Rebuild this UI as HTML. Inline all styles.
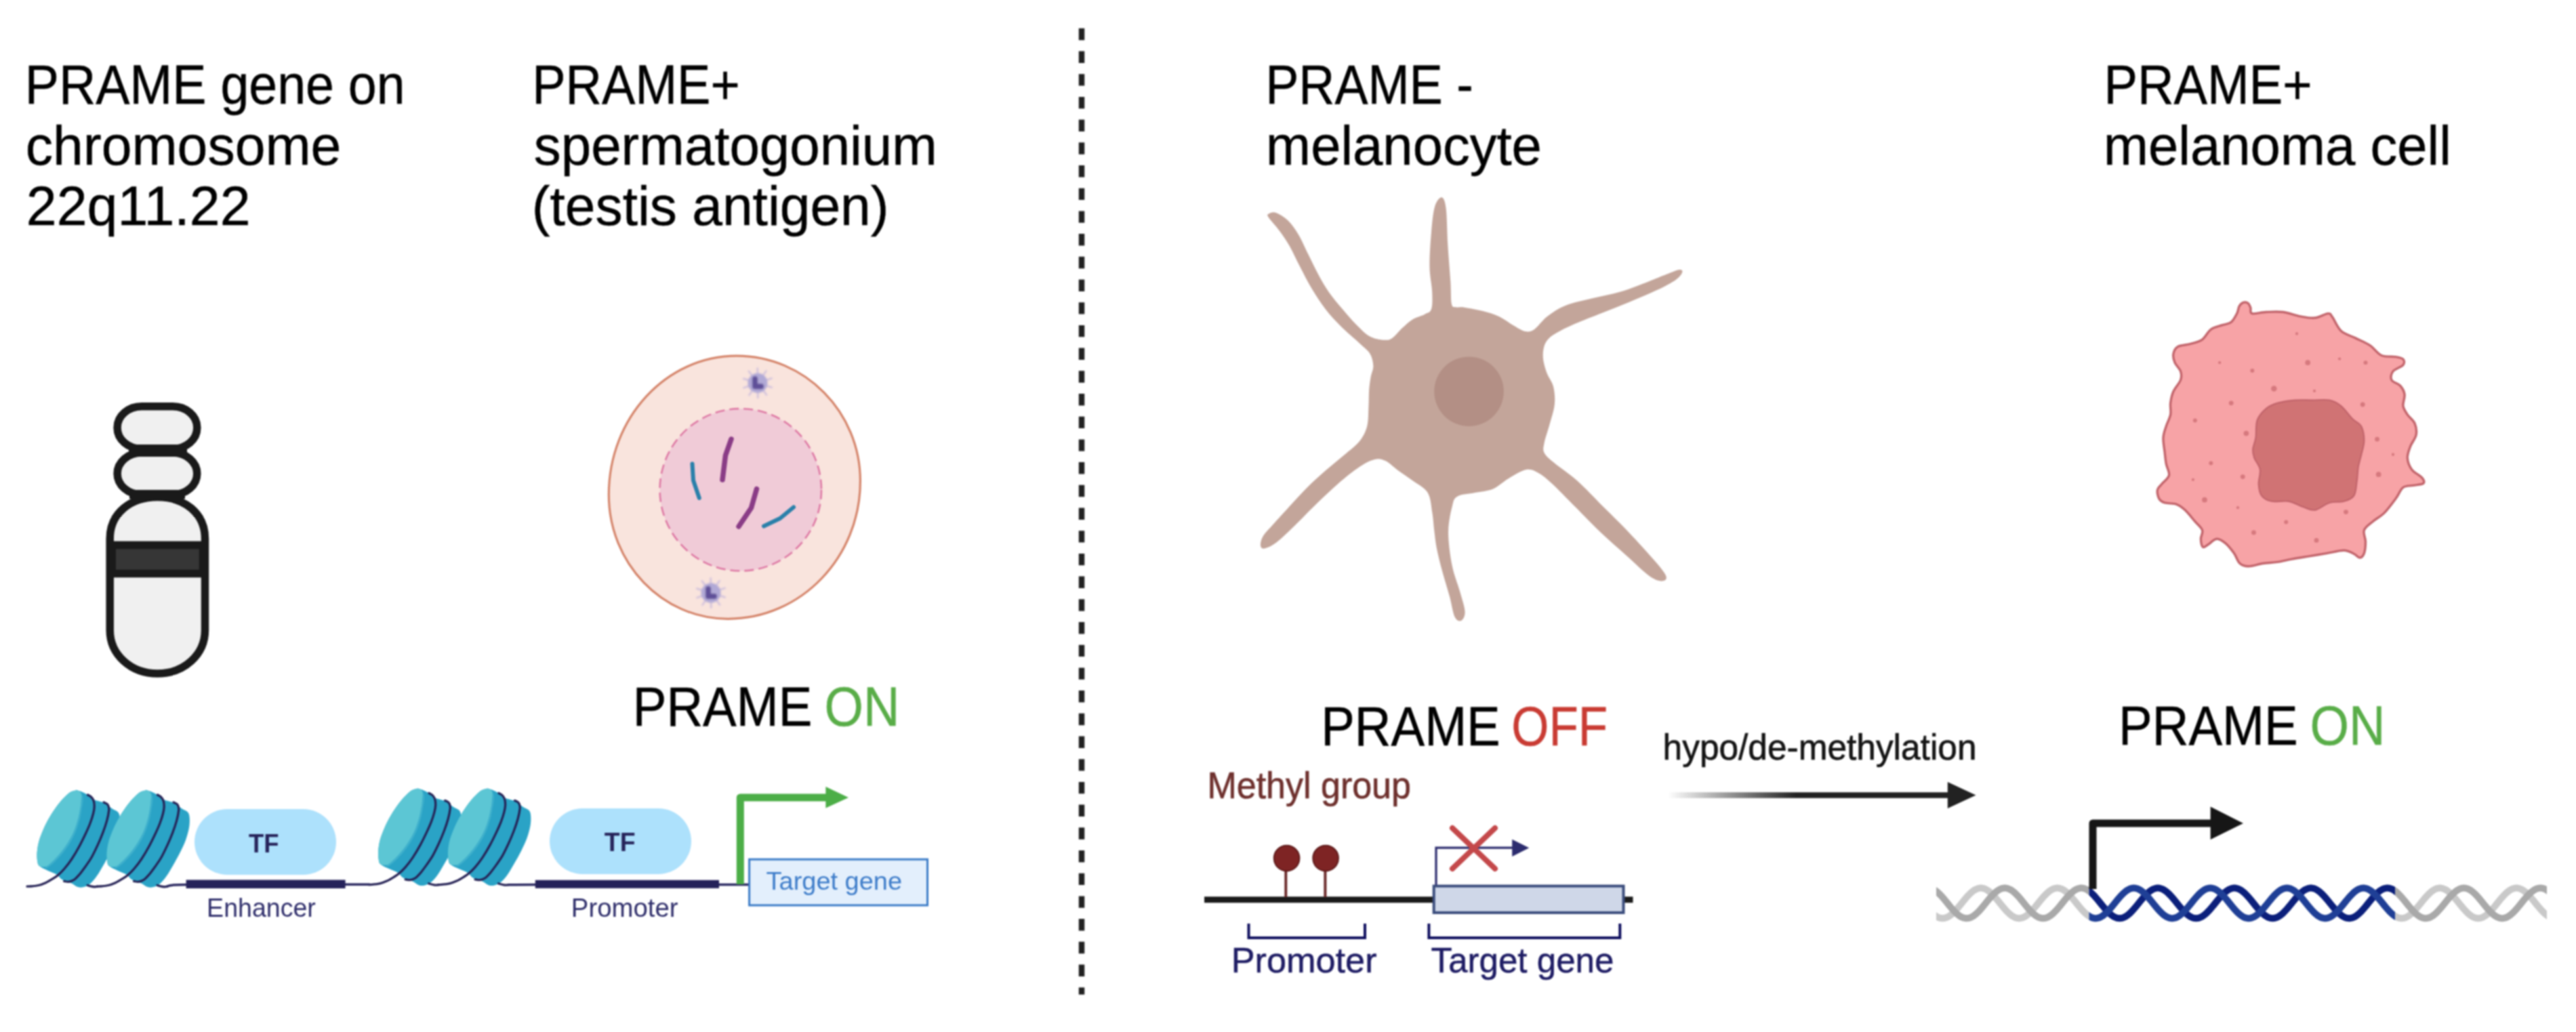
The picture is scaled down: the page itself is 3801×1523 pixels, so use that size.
<!DOCTYPE html>
<html><head><meta charset="utf-8">
<style>
html,body{margin:0;padding:0;background:#fff;}
body{width:3801px;height:1523px;overflow:hidden;}
svg{display:block;filter:blur(0.8px);}
text{font-family:"Liberation Sans",sans-serif;}
</style></head>
<body>
<svg width="3801" height="1523" viewBox="0 0 3801 1523">
<defs>
<filter id="blur1" x="-50%" y="-50%" width="200%" height="200%"><feGaussianBlur stdDeviation="1.3"/></filter>
<linearGradient id="arrg" x1="2461" y1="0" x2="2650" y2="0" gradientUnits="userSpaceOnUse">
<stop offset="0" stop-color="#222" stop-opacity="0"/>
<stop offset="1" stop-color="#222" stop-opacity="1"/>
</linearGradient>
</defs>
<rect width="3801" height="1523" fill="#fff"/>
<line x1="1596" y1="41.8" x2="1596" y2="1467.7" stroke="#222" stroke-width="8.5" stroke-dasharray="17.4 16.3"/>
<g stroke="#1a1a1a" stroke-width="11.5">
<path d="M162.2,795 C162.2,757 193,733.5 232.35,733.5 C271.7,733.5 302.5,757 302.5,795 L302.5,930 C302.5,966 271.7,994 232.35,994 C193,994 162.2,966 162.2,930 Z" fill="#f0f0f0"/>
<rect x="165.2" y="804.4" width="134.3" height="42.1" fill="#363636"/>
<rect x="173.1" y="668" width="117.7" height="62" rx="36" ry="31" fill="#f0f0f0"/>
<rect x="173.1" y="599.8" width="117.7" height="62.6" rx="36" ry="31" fill="#f0f0f0"/>
</g>
<rect x="190" y="656" width="86" height="18" fill="#1a1a1a"/>
<rect x="191" y="723" width="82" height="13" fill="#1a1a1a"/>
<path d="M1086.9,525.1 C1187.7,525.1 1269.4,607.9 1269.4,710.0 C1269.4,822.3 1182.0,913.3 1074.2,913.3 C977.1,913.3 898.3,831.2 898.3,730.0 C898.3,616.8 982.7,525.1 1086.9,525.1Z" fill="#f9e4dd" stroke="#d5856b" stroke-width="3.2"/>
<ellipse cx="1092.8" cy="722.8" rx="119.2" ry="119.7" fill="#f0cbd7" stroke="#de7aa5" stroke-width="2.6" stroke-dasharray="14 7"/>
<g filter="url(#blur1)"><g stroke="#c4b6dc" stroke-width="2" stroke-linecap="round"><line x1="1130.4" y1="569.1" x2="1139.0" y2="571.8"/><line x1="1125.8" y1="575.7" x2="1131.2" y2="582.9"/><line x1="1118.2" y1="578.3" x2="1118.3" y2="587.3"/><line x1="1110.5" y1="575.9" x2="1105.3" y2="583.3"/><line x1="1105.7" y1="569.5" x2="1097.2" y2="572.4"/><line x1="1105.6" y1="561.5" x2="1097.0" y2="558.8"/><line x1="1110.2" y1="554.9" x2="1104.8" y2="547.7"/><line x1="1117.8" y1="552.3" x2="1117.7" y2="543.3"/><line x1="1125.5" y1="554.7" x2="1130.7" y2="547.3"/><line x1="1130.3" y1="561.1" x2="1138.8" y2="558.2"/></g><circle cx="1118.0" cy="565.3" r="14.5" fill="#b1a9d6"/><path d="M1114.0,559.3 l0,11 l9,0" stroke="#5f4f98" stroke-width="8" fill="none" stroke-linejoin="round" stroke-linecap="round"/></g>
<g filter="url(#blur1)"><g stroke="#c4b6dc" stroke-width="2" stroke-linecap="round"><line x1="1061.4" y1="878.8" x2="1070.0" y2="881.5"/><line x1="1056.8" y1="885.4" x2="1062.2" y2="892.6"/><line x1="1049.2" y1="888.0" x2="1049.3" y2="897.0"/><line x1="1041.5" y1="885.6" x2="1036.3" y2="893.0"/><line x1="1036.7" y1="879.2" x2="1028.2" y2="882.1"/><line x1="1036.6" y1="871.2" x2="1028.0" y2="868.5"/><line x1="1041.2" y1="864.6" x2="1035.8" y2="857.4"/><line x1="1048.8" y1="862.0" x2="1048.7" y2="853.0"/><line x1="1056.5" y1="864.4" x2="1061.7" y2="857.0"/><line x1="1061.3" y1="870.8" x2="1069.8" y2="867.9"/></g><circle cx="1049.0" cy="875.0" r="14.5" fill="#b1a9d6"/><path d="M1045.0,869.0 l0,11 l9,0" stroke="#5f4f98" stroke-width="8" fill="none" stroke-linejoin="round" stroke-linecap="round"/></g>
<g fill="none" stroke-linecap="round" stroke-linejoin="round">
<path d="M1079,648 L1070.5,672 L1066,708" stroke="#8a3c86" stroke-width="7.5"/>
<path d="M1116.5,721.5 L1108.5,749.5 L1090,777" stroke="#8a3c86" stroke-width="7.5"/>
<path d="M1021.5,684.5 L1023,709 L1031.8,735" stroke="#2a80aa" stroke-width="6"/>
<path d="M1171,748.5 L1151,765 L1127,776.5" stroke="#2a80aa" stroke-width="6"/>
</g>
<g transform="translate(40.00,1150.00)"><g><path d="M72.0,16.5 C74.0,16.4 75.8,16.8 78.0,17.5 C80.2,18.2 83.1,19.5 85.0,20.5 C86.9,21.5 87.5,22.0 89.5,23.5 C91.5,25.0 94.4,28.1 97.0,29.5 C99.6,30.9 102.2,31.1 105.0,32.0 C107.8,32.9 111.3,33.8 113.5,34.8 C115.7,35.8 115.9,36.5 118.0,38.0 C120.1,39.5 123.4,42.0 126.1,43.8 C128.8,45.6 132.5,46.5 134.3,48.7 C136.1,50.9 136.5,53.1 136.8,57.0 C137.1,60.9 137.0,66.3 136.0,71.8 C135.0,77.3 133.2,83.9 131.0,89.9 C128.8,95.9 125.8,102.0 122.8,108.0 C119.8,114.0 116.2,120.4 112.9,126.2 C109.6,132.0 106.3,137.9 103.0,142.6 C99.7,147.3 96.4,151.4 93.1,154.2 C89.8,156.9 86.3,158.3 83.3,159.1 C80.3,159.9 77.8,159.9 75.0,159.1 C72.2,158.3 69.5,155.6 66.8,154.2 C64.0,152.8 61.3,152.1 58.5,150.9 C55.7,149.7 52.4,148.7 50.0,147.0 C47.6,145.3 47.2,142.9 43.9,140.8 C40.6,138.8 34.6,136.8 30.3,134.7 C26.0,132.6 20.6,130.3 18.1,128.0 C15.6,125.7 15.8,124.4 15.2,121.0 C14.6,117.6 14.3,112.5 14.7,107.6 C15.1,102.7 15.9,97.0 17.5,91.4 C19.1,85.8 21.6,79.6 24.0,74.0 C26.4,68.4 29.2,62.9 32.0,58.0 C34.8,53.1 37.5,48.8 40.5,44.5 C43.5,40.2 46.7,35.8 50.0,32.0 C53.3,28.2 57.8,23.8 60.5,21.5 C63.2,19.2 64.1,18.8 66.0,18.0 C67.9,17.2 70.0,16.6 72.0,16.5Z" fill="#2aa3c6"/><path d="M72.0,16.5 C71.3,14.7 74.8,16.6 76.0,17.2 C77.2,17.8 78.5,18.7 79.5,20.0 C80.5,21.3 81.5,23.0 82.0,25.0 C82.5,27.0 82.7,29.2 82.5,32.0 C82.3,34.8 81.8,37.7 81.0,42.0 C80.2,46.3 79.3,52.7 78.0,58.0 C76.7,63.3 74.9,68.9 73.0,74.0 C71.1,79.1 69.0,83.8 66.5,88.5 C64.0,93.2 61.1,97.7 58.0,102.0 C54.9,106.3 51.4,110.7 48.0,114.5 C44.6,118.3 40.7,122.2 37.5,125.0 C34.3,127.8 30.8,130.3 29.0,131.0 C27.2,131.7 26.0,130.2 27.0,129.0 C28.0,127.8 31.9,126.2 35.0,123.5 C38.1,120.8 42.1,116.8 45.5,113.0 C48.9,109.2 52.4,104.8 55.5,100.5 C58.6,96.2 61.5,91.6 64.0,87.0 C66.5,82.4 68.6,78.0 70.5,73.0 C72.4,68.0 74.1,62.5 75.5,57.0 C76.9,51.5 78.0,44.8 78.8,40.0 C79.5,35.2 81.1,31.9 80.0,28.0 C78.9,24.1 72.7,18.3 72.0,16.5Z" fill="#3fb0cc"/><path d="M72.0,16.5 C73.7,16.4 74.8,16.6 76.0,17.2 C77.2,17.8 78.8,18.2 79.5,20.0 C80.2,21.8 80.1,24.7 80.0,28.0 C79.9,31.3 79.5,35.2 78.8,40.0 C78.0,44.8 76.9,51.5 75.5,57.0 C74.1,62.5 72.4,68.0 70.5,73.0 C68.6,78.0 66.5,82.4 64.0,87.0 C61.5,91.6 58.6,96.2 55.5,100.5 C52.4,104.8 48.9,109.2 45.5,113.0 C42.1,116.8 38.1,120.8 35.0,123.5 C31.9,126.2 29.8,128.2 27.0,129.0 C24.2,129.8 20.1,129.3 18.1,128.0 C16.1,126.7 15.8,124.4 15.2,121.0 C14.6,117.6 14.3,112.5 14.7,107.6 C15.1,102.7 15.9,97.0 17.5,91.4 C19.1,85.8 21.6,79.6 24.0,74.0 C26.4,68.4 29.2,62.9 32.0,58.0 C34.8,53.1 37.5,48.8 40.5,44.5 C43.5,40.2 46.7,35.8 50.0,32.0 C53.3,28.2 57.8,23.8 60.5,21.5 C63.2,19.2 64.1,18.8 66.0,18.0 C67.9,17.2 70.3,16.6 72.0,16.5Z" fill="#5cc6d4"/><g fill="none" stroke="#262356" stroke-width="3.3" stroke-linecap="round"><path d="M0.0,158.2 C0.8,158.2 2.2,158.3 5.0,158.0 C7.8,157.7 13.2,157.4 17.0,156.5 C20.8,155.6 24.0,154.3 27.5,152.7 C31.0,151.1 35.0,148.6 38.0,146.7 C41.0,144.8 42.8,143.8 45.6,141.4 C48.4,139.0 51.2,136.5 54.6,132.5 C58.0,128.5 62.3,123.1 66.0,117.5 C69.7,111.9 73.7,105.1 77.0,99.0 C80.3,92.9 83.3,86.7 86.0,81.0 C88.7,75.3 91.1,70.0 93.0,65.0 C94.9,60.0 96.5,55.0 97.5,51.0 C98.5,47.0 99.1,44.2 99.2,41.0 C99.3,37.8 98.9,34.0 98.1,31.5 C97.3,29.0 95.8,27.4 94.4,26.0 C93.0,24.6 90.3,23.5 89.5,23.0"/><path d="M54.6,150.5 C55.9,150.6 59.6,151.6 62.1,151.2 C64.6,150.8 67.1,149.9 69.6,148.2 C72.1,146.4 74.3,143.9 77.1,140.7 C79.8,137.4 83.1,132.9 86.1,128.7 C89.1,124.4 92.1,120.5 95.1,115.2 C98.1,109.9 101.3,103.1 104.1,97.1 C106.9,91.1 109.4,85.1 111.7,79.1 C114.0,73.1 116.2,66.6 117.7,61.1 C119.2,55.6 120.3,49.6 120.7,46.0 C121.1,42.4 120.4,40.9 119.9,39.3 C119.4,37.7 118.8,37.2 117.7,36.3 C116.6,35.4 114.0,34.4 113.2,34.0"/><path d="M89.1,156.5 C90.6,156.9 95.6,158.4 98.1,158.7 C100.6,159.0 103.0,158.4 104.0,158.3"/></g></g></g>
<g transform="translate(142.93,1150.00)"><g><path d="M72.0,16.5 C74.0,16.4 75.8,16.8 78.0,17.5 C80.2,18.2 83.1,19.5 85.0,20.5 C86.9,21.5 87.5,22.0 89.5,23.5 C91.5,25.0 94.4,28.1 97.0,29.5 C99.6,30.9 102.2,31.1 105.0,32.0 C107.8,32.9 111.3,33.8 113.5,34.8 C115.7,35.8 115.9,36.5 118.0,38.0 C120.1,39.5 123.4,42.0 126.1,43.8 C128.8,45.6 132.5,46.5 134.3,48.7 C136.1,50.9 136.5,53.1 136.8,57.0 C137.1,60.9 137.0,66.3 136.0,71.8 C135.0,77.3 133.2,83.9 131.0,89.9 C128.8,95.9 125.8,102.0 122.8,108.0 C119.8,114.0 116.2,120.4 112.9,126.2 C109.6,132.0 106.3,137.9 103.0,142.6 C99.7,147.3 96.4,151.4 93.1,154.2 C89.8,156.9 86.3,158.3 83.3,159.1 C80.3,159.9 77.8,159.9 75.0,159.1 C72.2,158.3 69.5,155.6 66.8,154.2 C64.0,152.8 61.3,152.1 58.5,150.9 C55.7,149.7 52.4,148.7 50.0,147.0 C47.6,145.3 47.2,142.9 43.9,140.8 C40.6,138.8 34.6,136.8 30.3,134.7 C26.0,132.6 20.6,130.3 18.1,128.0 C15.6,125.7 15.8,124.4 15.2,121.0 C14.6,117.6 14.3,112.5 14.7,107.6 C15.1,102.7 15.9,97.0 17.5,91.4 C19.1,85.8 21.6,79.6 24.0,74.0 C26.4,68.4 29.2,62.9 32.0,58.0 C34.8,53.1 37.5,48.8 40.5,44.5 C43.5,40.2 46.7,35.8 50.0,32.0 C53.3,28.2 57.8,23.8 60.5,21.5 C63.2,19.2 64.1,18.8 66.0,18.0 C67.9,17.2 70.0,16.6 72.0,16.5Z" fill="#2aa3c6"/><path d="M72.0,16.5 C71.3,14.7 74.8,16.6 76.0,17.2 C77.2,17.8 78.5,18.7 79.5,20.0 C80.5,21.3 81.5,23.0 82.0,25.0 C82.5,27.0 82.7,29.2 82.5,32.0 C82.3,34.8 81.8,37.7 81.0,42.0 C80.2,46.3 79.3,52.7 78.0,58.0 C76.7,63.3 74.9,68.9 73.0,74.0 C71.1,79.1 69.0,83.8 66.5,88.5 C64.0,93.2 61.1,97.7 58.0,102.0 C54.9,106.3 51.4,110.7 48.0,114.5 C44.6,118.3 40.7,122.2 37.5,125.0 C34.3,127.8 30.8,130.3 29.0,131.0 C27.2,131.7 26.0,130.2 27.0,129.0 C28.0,127.8 31.9,126.2 35.0,123.5 C38.1,120.8 42.1,116.8 45.5,113.0 C48.9,109.2 52.4,104.8 55.5,100.5 C58.6,96.2 61.5,91.6 64.0,87.0 C66.5,82.4 68.6,78.0 70.5,73.0 C72.4,68.0 74.1,62.5 75.5,57.0 C76.9,51.5 78.0,44.8 78.8,40.0 C79.5,35.2 81.1,31.9 80.0,28.0 C78.9,24.1 72.7,18.3 72.0,16.5Z" fill="#3fb0cc"/><path d="M72.0,16.5 C73.7,16.4 74.8,16.6 76.0,17.2 C77.2,17.8 78.8,18.2 79.5,20.0 C80.2,21.8 80.1,24.7 80.0,28.0 C79.9,31.3 79.5,35.2 78.8,40.0 C78.0,44.8 76.9,51.5 75.5,57.0 C74.1,62.5 72.4,68.0 70.5,73.0 C68.6,78.0 66.5,82.4 64.0,87.0 C61.5,91.6 58.6,96.2 55.5,100.5 C52.4,104.8 48.9,109.2 45.5,113.0 C42.1,116.8 38.1,120.8 35.0,123.5 C31.9,126.2 29.8,128.2 27.0,129.0 C24.2,129.8 20.1,129.3 18.1,128.0 C16.1,126.7 15.8,124.4 15.2,121.0 C14.6,117.6 14.3,112.5 14.7,107.6 C15.1,102.7 15.9,97.0 17.5,91.4 C19.1,85.8 21.6,79.6 24.0,74.0 C26.4,68.4 29.2,62.9 32.0,58.0 C34.8,53.1 37.5,48.8 40.5,44.5 C43.5,40.2 46.7,35.8 50.0,32.0 C53.3,28.2 57.8,23.8 60.5,21.5 C63.2,19.2 64.1,18.8 66.0,18.0 C67.9,17.2 70.3,16.6 72.0,16.5Z" fill="#5cc6d4"/><g fill="none" stroke="#262356" stroke-width="3.3" stroke-linecap="round"><path d="M0.0,158.2 C0.8,158.2 2.2,158.3 5.0,158.0 C7.8,157.7 13.2,157.4 17.0,156.5 C20.8,155.6 24.0,154.3 27.5,152.7 C31.0,151.1 35.0,148.6 38.0,146.7 C41.0,144.8 42.8,143.8 45.6,141.4 C48.4,139.0 51.2,136.5 54.6,132.5 C58.0,128.5 62.3,123.1 66.0,117.5 C69.7,111.9 73.7,105.1 77.0,99.0 C80.3,92.9 83.3,86.7 86.0,81.0 C88.7,75.3 91.1,70.0 93.0,65.0 C94.9,60.0 96.5,55.0 97.5,51.0 C98.5,47.0 99.1,44.2 99.2,41.0 C99.3,37.8 98.9,34.0 98.1,31.5 C97.3,29.0 95.8,27.4 94.4,26.0 C93.0,24.6 90.3,23.5 89.5,23.0"/><path d="M54.6,150.5 C55.9,150.6 59.6,151.6 62.1,151.2 C64.6,150.8 67.1,149.9 69.6,148.2 C72.1,146.4 74.3,143.9 77.1,140.7 C79.8,137.4 83.1,132.9 86.1,128.7 C89.1,124.4 92.1,120.5 95.1,115.2 C98.1,109.9 101.3,103.1 104.1,97.1 C106.9,91.1 109.4,85.1 111.7,79.1 C114.0,73.1 116.2,66.6 117.7,61.1 C119.2,55.6 120.3,49.6 120.7,46.0 C121.1,42.4 120.4,40.9 119.9,39.3 C119.4,37.7 118.8,37.2 117.7,36.3 C116.6,35.4 114.0,34.4 113.2,34.0"/><path d="M89.1,156.5 C90.6,156.9 95.6,158.4 98.1,158.7 C100.6,159.0 103.0,158.4 104.0,158.3"/></g></g></g>
<g transform="translate(543.50,1147.40)"><g><path d="M72.0,16.5 C74.0,16.4 75.8,16.8 78.0,17.5 C80.2,18.2 83.1,19.5 85.0,20.5 C86.9,21.5 87.5,22.0 89.5,23.5 C91.5,25.0 94.4,28.1 97.0,29.5 C99.6,30.9 102.2,31.1 105.0,32.0 C107.8,32.9 111.3,33.8 113.5,34.8 C115.7,35.8 115.9,36.5 118.0,38.0 C120.1,39.5 123.4,42.0 126.1,43.8 C128.8,45.6 132.5,46.5 134.3,48.7 C136.1,50.9 136.5,53.1 136.8,57.0 C137.1,60.9 137.0,66.3 136.0,71.8 C135.0,77.3 133.2,83.9 131.0,89.9 C128.8,95.9 125.8,102.0 122.8,108.0 C119.8,114.0 116.2,120.4 112.9,126.2 C109.6,132.0 106.3,137.9 103.0,142.6 C99.7,147.3 96.4,151.4 93.1,154.2 C89.8,156.9 86.3,158.3 83.3,159.1 C80.3,159.9 77.8,159.9 75.0,159.1 C72.2,158.3 69.5,155.6 66.8,154.2 C64.0,152.8 61.3,152.1 58.5,150.9 C55.7,149.7 52.4,148.7 50.0,147.0 C47.6,145.3 47.2,142.9 43.9,140.8 C40.6,138.8 34.6,136.8 30.3,134.7 C26.0,132.6 20.6,130.3 18.1,128.0 C15.6,125.7 15.8,124.4 15.2,121.0 C14.6,117.6 14.3,112.5 14.7,107.6 C15.1,102.7 15.9,97.0 17.5,91.4 C19.1,85.8 21.6,79.6 24.0,74.0 C26.4,68.4 29.2,62.9 32.0,58.0 C34.8,53.1 37.5,48.8 40.5,44.5 C43.5,40.2 46.7,35.8 50.0,32.0 C53.3,28.2 57.8,23.8 60.5,21.5 C63.2,19.2 64.1,18.8 66.0,18.0 C67.9,17.2 70.0,16.6 72.0,16.5Z" fill="#2aa3c6"/><path d="M72.0,16.5 C71.3,14.7 74.8,16.6 76.0,17.2 C77.2,17.8 78.5,18.7 79.5,20.0 C80.5,21.3 81.5,23.0 82.0,25.0 C82.5,27.0 82.7,29.2 82.5,32.0 C82.3,34.8 81.8,37.7 81.0,42.0 C80.2,46.3 79.3,52.7 78.0,58.0 C76.7,63.3 74.9,68.9 73.0,74.0 C71.1,79.1 69.0,83.8 66.5,88.5 C64.0,93.2 61.1,97.7 58.0,102.0 C54.9,106.3 51.4,110.7 48.0,114.5 C44.6,118.3 40.7,122.2 37.5,125.0 C34.3,127.8 30.8,130.3 29.0,131.0 C27.2,131.7 26.0,130.2 27.0,129.0 C28.0,127.8 31.9,126.2 35.0,123.5 C38.1,120.8 42.1,116.8 45.5,113.0 C48.9,109.2 52.4,104.8 55.5,100.5 C58.6,96.2 61.5,91.6 64.0,87.0 C66.5,82.4 68.6,78.0 70.5,73.0 C72.4,68.0 74.1,62.5 75.5,57.0 C76.9,51.5 78.0,44.8 78.8,40.0 C79.5,35.2 81.1,31.9 80.0,28.0 C78.9,24.1 72.7,18.3 72.0,16.5Z" fill="#3fb0cc"/><path d="M72.0,16.5 C73.7,16.4 74.8,16.6 76.0,17.2 C77.2,17.8 78.8,18.2 79.5,20.0 C80.2,21.8 80.1,24.7 80.0,28.0 C79.9,31.3 79.5,35.2 78.8,40.0 C78.0,44.8 76.9,51.5 75.5,57.0 C74.1,62.5 72.4,68.0 70.5,73.0 C68.6,78.0 66.5,82.4 64.0,87.0 C61.5,91.6 58.6,96.2 55.5,100.5 C52.4,104.8 48.9,109.2 45.5,113.0 C42.1,116.8 38.1,120.8 35.0,123.5 C31.9,126.2 29.8,128.2 27.0,129.0 C24.2,129.8 20.1,129.3 18.1,128.0 C16.1,126.7 15.8,124.4 15.2,121.0 C14.6,117.6 14.3,112.5 14.7,107.6 C15.1,102.7 15.9,97.0 17.5,91.4 C19.1,85.8 21.6,79.6 24.0,74.0 C26.4,68.4 29.2,62.9 32.0,58.0 C34.8,53.1 37.5,48.8 40.5,44.5 C43.5,40.2 46.7,35.8 50.0,32.0 C53.3,28.2 57.8,23.8 60.5,21.5 C63.2,19.2 64.1,18.8 66.0,18.0 C67.9,17.2 70.3,16.6 72.0,16.5Z" fill="#5cc6d4"/><g fill="none" stroke="#262356" stroke-width="3.3" stroke-linecap="round"><path d="M0.0,158.2 C0.8,158.2 2.2,158.3 5.0,158.0 C7.8,157.7 13.2,157.4 17.0,156.5 C20.8,155.6 24.0,154.3 27.5,152.7 C31.0,151.1 35.0,148.6 38.0,146.7 C41.0,144.8 42.8,143.8 45.6,141.4 C48.4,139.0 51.2,136.5 54.6,132.5 C58.0,128.5 62.3,123.1 66.0,117.5 C69.7,111.9 73.7,105.1 77.0,99.0 C80.3,92.9 83.3,86.7 86.0,81.0 C88.7,75.3 91.1,70.0 93.0,65.0 C94.9,60.0 96.5,55.0 97.5,51.0 C98.5,47.0 99.1,44.2 99.2,41.0 C99.3,37.8 98.9,34.0 98.1,31.5 C97.3,29.0 95.8,27.4 94.4,26.0 C93.0,24.6 90.3,23.5 89.5,23.0"/><path d="M54.6,150.5 C55.9,150.6 59.6,151.6 62.1,151.2 C64.6,150.8 67.1,149.9 69.6,148.2 C72.1,146.4 74.3,143.9 77.1,140.7 C79.8,137.4 83.1,132.9 86.1,128.7 C89.1,124.4 92.1,120.5 95.1,115.2 C98.1,109.9 101.3,103.1 104.1,97.1 C106.9,91.1 109.4,85.1 111.7,79.1 C114.0,73.1 116.2,66.6 117.7,61.1 C119.2,55.6 120.3,49.6 120.7,46.0 C121.1,42.4 120.4,40.9 119.9,39.3 C119.4,37.7 118.8,37.2 117.7,36.3 C116.6,35.4 114.0,34.4 113.2,34.0"/><path d="M89.1,156.5 C90.6,156.9 95.6,158.4 98.1,158.7 C100.6,159.0 103.0,158.4 104.0,158.3"/></g></g></g>
<g transform="translate(646.40,1147.40)"><g><path d="M72.0,16.5 C74.0,16.4 75.8,16.8 78.0,17.5 C80.2,18.2 83.1,19.5 85.0,20.5 C86.9,21.5 87.5,22.0 89.5,23.5 C91.5,25.0 94.4,28.1 97.0,29.5 C99.6,30.9 102.2,31.1 105.0,32.0 C107.8,32.9 111.3,33.8 113.5,34.8 C115.7,35.8 115.9,36.5 118.0,38.0 C120.1,39.5 123.4,42.0 126.1,43.8 C128.8,45.6 132.5,46.5 134.3,48.7 C136.1,50.9 136.5,53.1 136.8,57.0 C137.1,60.9 137.0,66.3 136.0,71.8 C135.0,77.3 133.2,83.9 131.0,89.9 C128.8,95.9 125.8,102.0 122.8,108.0 C119.8,114.0 116.2,120.4 112.9,126.2 C109.6,132.0 106.3,137.9 103.0,142.6 C99.7,147.3 96.4,151.4 93.1,154.2 C89.8,156.9 86.3,158.3 83.3,159.1 C80.3,159.9 77.8,159.9 75.0,159.1 C72.2,158.3 69.5,155.6 66.8,154.2 C64.0,152.8 61.3,152.1 58.5,150.9 C55.7,149.7 52.4,148.7 50.0,147.0 C47.6,145.3 47.2,142.9 43.9,140.8 C40.6,138.8 34.6,136.8 30.3,134.7 C26.0,132.6 20.6,130.3 18.1,128.0 C15.6,125.7 15.8,124.4 15.2,121.0 C14.6,117.6 14.3,112.5 14.7,107.6 C15.1,102.7 15.9,97.0 17.5,91.4 C19.1,85.8 21.6,79.6 24.0,74.0 C26.4,68.4 29.2,62.9 32.0,58.0 C34.8,53.1 37.5,48.8 40.5,44.5 C43.5,40.2 46.7,35.8 50.0,32.0 C53.3,28.2 57.8,23.8 60.5,21.5 C63.2,19.2 64.1,18.8 66.0,18.0 C67.9,17.2 70.0,16.6 72.0,16.5Z" fill="#2aa3c6"/><path d="M72.0,16.5 C71.3,14.7 74.8,16.6 76.0,17.2 C77.2,17.8 78.5,18.7 79.5,20.0 C80.5,21.3 81.5,23.0 82.0,25.0 C82.5,27.0 82.7,29.2 82.5,32.0 C82.3,34.8 81.8,37.7 81.0,42.0 C80.2,46.3 79.3,52.7 78.0,58.0 C76.7,63.3 74.9,68.9 73.0,74.0 C71.1,79.1 69.0,83.8 66.5,88.5 C64.0,93.2 61.1,97.7 58.0,102.0 C54.9,106.3 51.4,110.7 48.0,114.5 C44.6,118.3 40.7,122.2 37.5,125.0 C34.3,127.8 30.8,130.3 29.0,131.0 C27.2,131.7 26.0,130.2 27.0,129.0 C28.0,127.8 31.9,126.2 35.0,123.5 C38.1,120.8 42.1,116.8 45.5,113.0 C48.9,109.2 52.4,104.8 55.5,100.5 C58.6,96.2 61.5,91.6 64.0,87.0 C66.5,82.4 68.6,78.0 70.5,73.0 C72.4,68.0 74.1,62.5 75.5,57.0 C76.9,51.5 78.0,44.8 78.8,40.0 C79.5,35.2 81.1,31.9 80.0,28.0 C78.9,24.1 72.7,18.3 72.0,16.5Z" fill="#3fb0cc"/><path d="M72.0,16.5 C73.7,16.4 74.8,16.6 76.0,17.2 C77.2,17.8 78.8,18.2 79.5,20.0 C80.2,21.8 80.1,24.7 80.0,28.0 C79.9,31.3 79.5,35.2 78.8,40.0 C78.0,44.8 76.9,51.5 75.5,57.0 C74.1,62.5 72.4,68.0 70.5,73.0 C68.6,78.0 66.5,82.4 64.0,87.0 C61.5,91.6 58.6,96.2 55.5,100.5 C52.4,104.8 48.9,109.2 45.5,113.0 C42.1,116.8 38.1,120.8 35.0,123.5 C31.9,126.2 29.8,128.2 27.0,129.0 C24.2,129.8 20.1,129.3 18.1,128.0 C16.1,126.7 15.8,124.4 15.2,121.0 C14.6,117.6 14.3,112.5 14.7,107.6 C15.1,102.7 15.9,97.0 17.5,91.4 C19.1,85.8 21.6,79.6 24.0,74.0 C26.4,68.4 29.2,62.9 32.0,58.0 C34.8,53.1 37.5,48.8 40.5,44.5 C43.5,40.2 46.7,35.8 50.0,32.0 C53.3,28.2 57.8,23.8 60.5,21.5 C63.2,19.2 64.1,18.8 66.0,18.0 C67.9,17.2 70.3,16.6 72.0,16.5Z" fill="#5cc6d4"/><g fill="none" stroke="#262356" stroke-width="3.3" stroke-linecap="round"><path d="M0.0,158.2 C0.8,158.2 2.2,158.3 5.0,158.0 C7.8,157.7 13.2,157.4 17.0,156.5 C20.8,155.6 24.0,154.3 27.5,152.7 C31.0,151.1 35.0,148.6 38.0,146.7 C41.0,144.8 42.8,143.8 45.6,141.4 C48.4,139.0 51.2,136.5 54.6,132.5 C58.0,128.5 62.3,123.1 66.0,117.5 C69.7,111.9 73.7,105.1 77.0,99.0 C80.3,92.9 83.3,86.7 86.0,81.0 C88.7,75.3 91.1,70.0 93.0,65.0 C94.9,60.0 96.5,55.0 97.5,51.0 C98.5,47.0 99.1,44.2 99.2,41.0 C99.3,37.8 98.9,34.0 98.1,31.5 C97.3,29.0 95.8,27.4 94.4,26.0 C93.0,24.6 90.3,23.5 89.5,23.0"/><path d="M54.6,150.5 C55.9,150.6 59.6,151.6 62.1,151.2 C64.6,150.8 67.1,149.9 69.6,148.2 C72.1,146.4 74.3,143.9 77.1,140.7 C79.8,137.4 83.1,132.9 86.1,128.7 C89.1,124.4 92.1,120.5 95.1,115.2 C98.1,109.9 101.3,103.1 104.1,97.1 C106.9,91.1 109.4,85.1 111.7,79.1 C114.0,73.1 116.2,66.6 117.7,61.1 C119.2,55.6 120.3,49.6 120.7,46.0 C121.1,42.4 120.4,40.9 119.9,39.3 C119.4,37.7 118.8,37.2 117.7,36.3 C116.6,35.4 114.0,34.4 113.2,34.0"/><path d="M89.1,156.5 C90.6,156.9 95.6,158.4 98.1,158.7 C100.6,159.0 103.0,158.4 104.0,158.3"/></g></g></g>
<g stroke="#2a2860" stroke-width="3.5" fill="none"><path d="M246,1308.2 C252,1306 258,1305.5 280,1305.5"/><path d="M505,1305.3 L546,1305.3"/><path d="M749.5,1305.7 L800,1305.5"/><path d="M1055,1305.5 L1106,1305.5"/></g>
<rect x="274.6" y="1298.5" width="235" height="12.5" fill="#25225a"/>
<rect x="789.8" y="1298.8" width="271.2" height="12" fill="#25225a"/>
<rect x="287" y="1194" width="209" height="97" rx="48.5" fill="#ade1fc"/>
<rect x="811" y="1193" width="209" height="97" rx="48.5" fill="#ade1fc"/>
<path d="M1092.3,1305 L1092.3,1177 L1224,1177" fill="none" stroke="#4cae47" stroke-width="11" stroke-linejoin="round"/>
<path d="M1218.4,1161.1 L1252,1177 L1218.4,1192.5 Z" fill="#4cae47"/>
<rect x="1105.6" y="1268.2" width="262.9" height="67.8" fill="#e3effc" stroke="#3b7bc7" stroke-width="3"/>
<g transform="translate(1830,270) scale(0.64910)"><path d="M457.7,32.9 C461.9,33.4 465.3,39.2 467.7,57.2 C470.1,75.2 470.2,112.9 471.9,140.8 C473.6,168.7 476.7,202.0 478.1,224.4 C479.5,246.8 478.5,265.3 480.5,275.0 C482.5,284.7 485.2,281.2 490.0,282.5 C494.8,283.8 499.3,281.4 509.5,282.9 C519.7,284.3 538.1,287.7 551.3,291.2 C564.5,294.7 577.1,298.2 588.9,303.8 C600.7,309.4 612.5,319.1 622.3,324.7 C632.0,330.3 639.7,335.8 647.4,337.2 C655.1,338.6 659.9,338.6 668.3,333.0 C676.6,327.4 685.7,312.9 697.5,303.8 C709.3,294.8 721.9,285.7 739.3,278.7 C756.7,271.7 781.1,267.2 802.0,262.0 C822.9,256.8 843.8,253.6 864.7,247.3 C885.6,241.0 910.0,231.0 927.4,224.4 C944.8,217.8 957.4,212.1 969.2,207.6 C981.0,203.1 992.5,197.9 998.4,197.2 C1004.3,196.5 1006.1,199.7 1004.7,203.5 C1003.3,207.3 999.5,213.6 990.1,220.2 C980.7,226.8 965.7,234.8 948.3,243.2 C930.9,251.5 906.5,261.6 885.6,270.3 C864.7,279.0 843.8,287.0 822.9,295.4 C802.0,303.8 777.6,312.8 760.2,320.5 C742.8,328.2 728.9,335.1 718.4,341.4 C707.9,347.7 702.4,351.8 697.5,358.1 C692.6,364.4 690.6,371.3 689.2,379.0 C687.8,386.7 687.8,395.1 689.2,404.1 C690.6,413.2 693.8,423.6 697.5,433.3 C701.2,443.0 708.9,450.8 711.7,462.5 C714.6,474.2 716.1,488.7 714.6,503.3 C713.1,517.9 706.9,535.4 703.0,549.9 C699.1,564.4 693.2,579.9 691.3,590.6 C689.3,601.3 687.4,606.1 691.3,613.9 C695.2,621.7 702.0,626.5 714.6,637.2 C727.2,647.9 748.6,661.5 767.0,678.0 C785.4,694.5 805.8,716.8 825.2,736.2 C844.6,755.6 864.1,774.0 883.5,794.4 C902.9,814.8 927.6,841.9 941.7,858.4 C955.8,874.9 965.0,885.6 967.9,893.4 C970.8,901.2 965.4,905.0 959.1,905.0 C952.8,905.0 943.6,903.1 930.0,893.4 C916.4,883.7 896.0,863.3 877.6,846.8 C859.2,830.3 838.8,812.8 819.4,794.4 C800.0,776.0 779.6,754.6 761.2,736.2 C742.8,717.8 722.4,696.4 708.8,683.8 C695.2,671.2 689.4,665.8 679.7,660.5 C670.0,655.2 662.1,649.9 650.5,651.8 C638.9,653.7 622.4,664.8 609.8,672.1 C597.2,679.4 587.5,690.1 574.9,695.4 C562.3,700.7 547.7,701.2 534.1,704.1 C520.5,707.0 502.1,707.5 493.4,712.9 C484.7,718.2 485.1,722.6 481.7,736.2 C478.3,749.8 473.0,772.1 473.0,794.4 C473.0,816.7 477.3,847.8 481.7,870.1 C486.1,892.4 494.3,910.8 499.2,928.3 C504.1,945.8 510.3,963.7 510.8,974.9 C511.3,986.1 506.0,993.4 502.1,995.3 C498.2,997.2 492.0,995.7 487.6,986.5 C483.2,977.3 480.7,957.4 475.9,939.9 C471.1,922.4 463.9,900.0 459.0,881.7 C454.1,863.4 449.5,845.3 446.5,830.0 C443.5,814.7 442.7,803.5 441.0,790.0 C439.3,776.5 438.9,763.2 436.4,748.8 C433.9,734.4 433.4,715.8 425.9,703.7 C418.4,691.6 402.7,685.0 391.3,676.4 C379.9,667.8 367.5,659.8 357.3,652.4 C347.1,645.0 338.5,635.8 329.9,631.8 C321.3,627.8 315.6,626.2 305.8,628.5 C296.0,630.8 284.9,636.4 271.1,645.5 C257.3,654.6 239.1,669.4 223.1,683.2 C207.1,697.0 191.0,712.6 175.0,728.1 C159.0,743.6 142.3,761.3 126.9,776.2 C111.5,791.1 94.3,808.2 82.3,817.4 C70.3,826.5 60.8,830.0 54.8,831.1 C48.8,832.2 46.8,828.8 46.2,824.2 C45.7,819.6 47.2,811.2 51.5,803.7 C55.8,796.2 62.8,789.8 71.9,779.5 C81.0,769.2 93.1,756.1 106.3,741.8 C119.5,727.5 136.1,708.6 151.0,693.7 C165.9,678.8 181.3,665.2 195.6,652.6 C209.9,640.0 224.2,629.1 236.8,618.2 C249.4,607.3 262.5,598.2 271.1,587.4 C279.7,576.5 284.9,566.3 288.4,553.1 C291.8,539.9 291.0,522.2 291.8,508.4 C292.6,494.5 292.1,481.4 293.0,470.0 C293.9,458.6 295.4,449.0 297.0,440.0 C298.6,431.0 302.9,424.6 302.5,415.9 C302.1,407.2 299.9,396.4 294.7,387.9 C289.5,379.4 282.4,375.0 271.4,364.7 C260.4,354.4 241.6,338.8 228.7,325.9 C215.8,312.9 204.8,301.2 193.8,287.0 C182.8,272.8 172.4,256.7 162.7,240.5 C153.0,224.3 144.0,206.2 135.6,190.0 C127.2,173.8 120.1,157.1 112.3,143.5 C104.5,129.9 97.1,119.5 89.0,108.5 C80.9,97.5 67.7,84.0 63.8,77.5 C59.9,71.0 62.8,71.3 65.7,69.7 C68.6,68.1 74.2,65.2 81.3,67.8 C88.4,70.4 100.0,77.2 108.4,85.3 C116.8,93.4 123.9,103.4 131.7,116.3 C139.5,129.2 147.2,147.4 155.0,162.9 C162.8,178.4 170.5,195.2 178.3,209.4 C186.1,223.6 192.6,235.4 201.6,248.3 C210.6,261.2 222.2,274.7 232.6,287.0 C242.9,299.3 253.3,311.6 263.7,322.0 C274.1,332.4 284.4,343.3 294.7,349.1 C305.0,354.9 317.3,356.2 325.7,356.9 C334.1,357.5 338.0,357.5 345.1,353.0 C352.2,348.5 360.6,336.8 368.4,329.7 C376.2,322.6 383.3,315.5 391.7,310.3 C400.1,305.1 411.8,302.6 418.9,298.7 C426.0,294.8 431.5,295.4 434.4,287.0 C437.3,278.6 436.9,264.4 436.3,248.2 C435.7,232.0 430.8,212.6 430.5,190.0 C430.2,167.4 432.4,135.0 434.4,112.4 C436.3,89.8 438.3,67.5 442.2,54.2 C446.1,41.0 453.4,32.4 457.7,32.9Z" fill="#c3a59a"/><circle cx="520" cy="474" r="79" fill="#b38f85"/></g>
<g transform="translate(3160,420) scale(0.42644)"><path d="M330.0,100.0 C334.7,90.8 334.3,81.3 338.0,75.0 C341.7,68.7 347.0,63.8 352.0,62.0 C357.0,60.2 363.8,61.0 368.0,64.0 C372.2,67.0 374.7,74.0 377.0,80.0 C379.3,86.0 373.2,97.5 382.0,100.0 C390.8,102.5 412.0,95.8 430.0,95.0 C448.0,94.2 470.0,92.5 490.0,95.0 C510.0,97.5 531.7,106.7 550.0,110.0 C568.3,113.3 584.2,116.7 600.0,115.0 C615.8,113.3 635.0,100.5 645.0,100.0 C655.0,99.5 652.5,102.0 660.0,112.0 C667.5,122.0 676.7,147.8 690.0,160.0 C703.3,172.2 723.3,176.7 740.0,185.0 C756.7,193.3 775.0,200.0 790.0,210.0 C805.0,220.0 815.0,238.3 830.0,245.0 C845.0,251.7 867.5,247.8 880.0,250.0 C892.5,252.2 900.8,253.3 905.0,258.0 C909.2,262.7 910.8,271.0 905.0,278.0 C899.2,285.0 876.7,291.3 870.0,300.0 C863.3,308.7 860.8,321.7 865.0,330.0 C869.2,338.3 887.5,341.7 895.0,350.0 C902.5,358.3 908.3,368.3 910.0,380.0 C911.7,391.7 903.3,408.3 905.0,420.0 C906.7,431.7 913.3,440.0 920.0,450.0 C926.7,460.0 940.0,468.3 945.0,480.0 C950.0,491.7 952.5,506.7 950.0,520.0 C947.5,533.3 935.0,546.7 930.0,560.0 C925.0,573.3 919.2,586.7 920.0,600.0 C920.8,613.3 926.7,628.7 935.0,640.0 C943.3,651.3 963.3,660.0 970.0,668.0 C976.7,676.0 980.0,683.5 975.0,688.0 C970.0,692.5 951.7,692.7 940.0,695.0 C928.3,697.3 915.0,694.5 905.0,702.0 C895.0,709.5 890.8,725.3 880.0,740.0 C869.2,754.7 853.3,776.7 840.0,790.0 C826.7,803.3 811.7,810.0 800.0,820.0 C788.3,830.0 774.2,838.3 770.0,850.0 C765.8,861.7 775.0,876.7 775.0,890.0 C775.0,903.3 773.3,920.8 770.0,930.0 C766.7,939.2 760.8,944.7 755.0,945.0 C749.2,945.3 744.2,936.2 735.0,932.0 C725.8,927.8 715.8,920.3 700.0,920.0 C684.2,919.7 660.0,926.7 640.0,930.0 C620.0,933.3 600.0,936.7 580.0,940.0 C560.0,943.3 538.3,946.7 520.0,950.0 C501.7,953.3 486.7,957.5 470.0,960.0 C453.3,962.5 436.7,962.5 420.0,965.0 C403.3,967.5 383.3,975.0 370.0,975.0 C356.7,975.0 348.3,972.5 340.0,965.0 C331.7,957.5 328.3,941.7 320.0,930.0 C311.7,918.3 300.0,903.3 290.0,895.0 C280.0,886.7 270.0,879.2 260.0,880.0 C250.0,880.8 238.0,895.3 230.0,900.0 C222.0,904.7 216.2,911.3 212.0,908.0 C207.8,904.7 205.3,889.7 205.0,880.0 C204.7,870.3 213.3,860.0 210.0,850.0 C206.7,840.0 195.0,831.7 185.0,820.0 C175.0,808.3 160.8,790.0 150.0,780.0 C139.2,770.0 131.7,764.2 120.0,760.0 C108.3,755.8 90.0,758.3 80.0,755.0 C70.0,751.7 64.2,747.5 60.0,740.0 C55.8,732.5 53.3,718.3 55.0,710.0 C56.7,701.7 63.3,698.3 70.0,690.0 C76.7,681.7 92.5,671.7 95.0,660.0 C97.5,648.3 87.5,633.3 85.0,620.0 C82.5,606.7 81.7,595.0 80.0,580.0 C78.3,565.0 74.2,545.0 75.0,530.0 C75.8,515.0 80.8,503.3 85.0,490.0 C89.2,476.7 97.5,463.3 100.0,450.0 C102.5,436.7 98.3,423.3 100.0,410.0 C101.7,396.7 104.2,383.3 110.0,370.0 C115.8,356.7 130.8,341.7 135.0,330.0 C139.2,318.3 138.3,310.0 135.0,300.0 C131.7,290.0 119.2,280.0 115.0,270.0 C110.8,260.0 108.3,249.2 110.0,240.0 C111.7,230.8 115.0,220.8 125.0,215.0 C135.0,209.2 155.8,209.2 170.0,205.0 C184.2,200.8 198.3,198.3 210.0,190.0 C221.7,181.7 228.3,163.3 240.0,155.0 C251.7,146.7 268.3,144.2 280.0,140.0 C291.7,135.8 301.7,136.7 310.0,130.0 C318.3,123.3 325.3,109.2 330.0,100.0Z" fill="#f7a3a6" stroke="#c2646b" stroke-width="8"/><g fill="#d6797e"><circle cx="537" cy="170" r="5"/><circle cx="270" cy="270" r="5"/><circle cx="575" cy="270" r="9"/><circle cx="685" cy="257" r="5"/><circle cx="775" cy="270" r="7"/><circle cx="383" cy="298" r="7"/><circle cx="458" cy="360" r="10"/><circle cx="598" cy="368" r="5"/><circle cx="310" cy="410" r="8"/><circle cx="765" cy="415" r="8"/><circle cx="185" cy="470" r="7"/><circle cx="362" cy="515" r="9"/><circle cx="815" cy="535" r="8"/><circle cx="870" cy="588" r="5"/><circle cx="240" cy="618" r="7"/><circle cx="350" cy="665" r="8"/><circle cx="820" cy="657" r="9"/><circle cx="178" cy="675" r="5"/><circle cx="218" cy="745" r="9"/><circle cx="333" cy="772" r="5"/><circle cx="707" cy="787" r="8"/><circle cx="500" cy="822" r="7"/><circle cx="388" cy="858" r="8"/><circle cx="605" cy="885" r="8"/></g><path d="M400.0,470.0 C405.8,453.3 418.3,440.0 430.0,430.0 C441.7,420.0 453.3,415.0 470.0,410.0 C486.7,405.0 510.0,401.7 530.0,400.0 C550.0,398.3 570.0,400.0 590.0,400.0 C610.0,400.0 633.3,396.7 650.0,400.0 C666.7,403.3 676.7,409.2 690.0,420.0 C703.3,430.8 718.3,453.3 730.0,465.0 C741.7,476.7 753.3,477.5 760.0,490.0 C766.7,502.5 770.0,523.3 770.0,540.0 C770.0,556.7 763.3,575.0 760.0,590.0 C756.7,605.0 752.5,615.0 750.0,630.0 C747.5,645.0 747.5,663.3 745.0,680.0 C742.5,696.7 742.5,718.3 735.0,730.0 C727.5,741.7 714.2,745.8 700.0,750.0 C685.8,754.2 666.7,750.0 650.0,755.0 C633.3,760.0 615.0,777.5 600.0,780.0 C585.0,782.5 575.0,775.0 560.0,770.0 C545.0,765.0 528.3,753.3 510.0,750.0 C491.7,746.7 465.8,753.3 450.0,750.0 C434.2,746.7 422.5,740.0 415.0,730.0 C407.5,720.0 405.8,705.0 405.0,690.0 C404.2,675.0 412.5,655.0 410.0,640.0 C407.5,625.0 394.2,611.7 390.0,600.0 C385.8,588.3 384.2,581.7 385.0,570.0 C385.8,558.3 392.5,546.7 395.0,530.0 C397.5,513.3 394.2,486.7 400.0,470.0Z" fill="#d07374" stroke="#c0636a" stroke-width="5"/></g>
<line x1="1777" y1="1327.7" x2="2409.5" y2="1327.7" stroke="#1a1a1a" stroke-width="9"/>
<rect x="2115.7" y="1307.6" width="279.8" height="39.3" fill="#cfd7e8" stroke="#3a4c7c" stroke-width="4"/>
<g stroke="#6b2a2a" stroke-width="4"><line x1="1897.3" y1="1280" x2="1897.3" y2="1324"/><line x1="1955.4" y1="1280" x2="1955.4" y2="1324"/></g>
<g fill="#7e2424" stroke="#5e1a1a" stroke-width="2"><circle cx="1898.6" cy="1266.6" r="18.8"/><circle cx="1956.1" cy="1266.6" r="18.8"/></g>
<path d="M2119,1306 L2119,1251.2 L2234,1251.2" fill="none" stroke="#2c2c6e" stroke-width="3.2"/>
<path d="M2231.2,1238.8 L2256.3,1251.3 L2231.2,1263.9 Z" fill="#2c2c6e"/>
<g stroke="#c4484a" stroke-width="8" stroke-linecap="round"><line x1="2143" y1="1222" x2="2206" y2="1282"/><line x1="2206" y1="1222" x2="2143" y2="1282"/></g>
<g fill="none" stroke="#0e0e5e" stroke-width="4"><path d="M1842.5,1362.9 L1842.5,1384 L2014,1384 L2014,1362.9"/><path d="M2108.4,1362.9 L2108.4,1384 L2390.3,1384 L2390.3,1362.9"/></g>
<line x1="2461" y1="1173.5" x2="2880" y2="1173.5" stroke="url(#arrg)" stroke-width="8.5"/>
<path d="M2873.8,1154.1 L2915.5,1173.5 L2873.8,1193 Z" fill="#222"/>
<clipPath id="cblue"><rect x="3082.5" y="1280" width="451.5" height="100"/></clipPath>
<clipPath id="cgray"><rect x="2857" y="1280" width="225.5" height="100"/><rect x="3534" y="1280" width="224" height="100"/></clipPath>
<g fill="none" stroke-width="10" clip-path="url(#cgray)"><path d="M2850.0,1346.6 L2851.0,1347.5 L2852.0,1348.5 L2853.0,1349.3 L2854.0,1350.1 L2855.0,1350.9 L2856.0,1351.6 L2857.0,1352.2 L2858.0,1352.8 L2859.0,1353.4 L2860.0,1353.8 L2861.0,1354.2 L2862.0,1354.5 L2863.0,1354.8 L2864.0,1355.0 L2865.0,1355.1 L2866.0,1355.2 L2867.0,1355.2 L2868.0,1355.1 L2869.0,1355.0 L2870.0,1354.7 L2871.0,1354.5 L2872.0,1354.1 L2873.0,1353.7 L2874.0,1353.2 L2875.0,1352.7 L2876.0,1352.1 L2877.0,1351.4 L2878.0,1350.7 L2879.0,1349.9 L2880.0,1349.1 L2881.0,1348.2 L2882.0,1347.3 L2883.0,1346.3 L2884.0,1345.3 L2885.0,1344.2 L2886.0,1343.1 L2887.0,1342.0 L2888.0,1340.9 L2889.0,1339.7 L2890.0,1338.5 L2891.0,1337.3 L2892.0,1336.1 L2893.0,1334.9 L2894.0,1333.6 L2895.0,1332.4 L2896.0,1331.1 L2897.0,1329.9 L2898.0,1328.7 L2899.0,1327.5 L2900.0,1326.3 L2901.0,1325.1 L2902.0,1323.9 L2903.0,1322.8 L2904.0,1321.7 L2905.0,1320.7 L2906.0,1319.7 L2907.0,1318.7 L2908.0,1317.7 L2909.0,1316.9 L2910.0,1316.0 L2911.0,1315.2 L2912.0,1314.5 L2913.0,1313.8 L2914.0,1313.2 L2915.0,1312.7 L2916.0,1312.2 L2917.0,1311.8 L2918.0,1311.4 L2919.0,1311.1 L2920.0,1310.9 L2921.0,1310.7 L2922.0,1310.6 L2923.0,1310.6 L2924.0,1310.6 L2925.0,1310.8 L2926.0,1311.0 L2927.0,1311.2 L2928.0,1311.5 L2929.0,1311.9 L2930.0,1312.4 L2931.0,1312.9 L2932.0,1313.5 L2933.0,1314.1 L2934.0,1314.8 L2935.0,1315.5 L2936.0,1316.4 L2937.0,1317.2 L2938.0,1318.1 L2939.0,1319.1 L2940.0,1320.1 L2941.0,1321.1 L2942.0,1322.2 L2943.0,1323.3 L2944.0,1324.4 L2945.0,1325.6 L2946.0,1326.7 L2947.0,1327.9 L2948.0,1329.2 L2949.0,1330.4 L2950.0,1331.6 L2951.0,1332.9 L2952.0,1334.1 L2953.0,1335.3 L2954.0,1336.6 L2955.0,1337.8 L2956.0,1339.0 L2957.0,1340.2 L2958.0,1341.3 L2959.0,1342.5 L2960.0,1343.6 L2961.0,1344.7 L2962.0,1345.7 L2963.0,1346.7 L2964.0,1347.6 L2965.0,1348.5 L2966.0,1349.4 L2967.0,1350.2 L2968.0,1351.0 L2969.0,1351.7 L2970.0,1352.3 L2971.0,1352.9 L2972.0,1353.4 L2973.0,1353.9 L2974.0,1354.3 L2975.0,1354.6 L2976.0,1354.8 L2977.0,1355.0 L2978.0,1355.1 L2979.0,1355.2 L2980.0,1355.2 L2981.0,1355.1 L2982.0,1354.9 L2983.0,1354.7 L2984.0,1354.4 L2985.0,1354.1 L2986.0,1353.6 L2987.0,1353.2 L2988.0,1352.6 L2989.0,1352.0 L2990.0,1351.3 L2991.0,1350.6 L2992.0,1349.8 L2993.0,1349.0 L2994.0,1348.1 L2995.0,1347.2 L2996.0,1346.2 L2997.0,1345.2 L2998.0,1344.1 L2999.0,1343.0 L3000.0,1341.9 L3001.0,1340.8 L3002.0,1339.6 L3003.0,1338.4 L3004.0,1337.2 L3005.0,1336.0 L3006.0,1334.7 L3007.0,1333.5 L3008.0,1332.2 L3009.0,1331.0 L3010.0,1329.8 L3011.0,1328.6 L3012.0,1327.3 L3013.0,1326.2 L3014.0,1325.0 L3015.0,1323.8 L3016.0,1322.7 L3017.0,1321.6 L3018.0,1320.6 L3019.0,1319.6 L3020.0,1318.6 L3021.0,1317.7 L3022.0,1316.8 L3023.0,1315.9 L3024.0,1315.2 L3025.0,1314.4 L3026.0,1313.8 L3027.0,1313.2 L3028.0,1312.6 L3029.0,1312.1 L3030.0,1311.7 L3031.0,1311.4 L3032.0,1311.1 L3033.0,1310.9 L3034.0,1310.7 L3035.0,1310.6 L3036.0,1310.6 L3037.0,1310.7 L3038.0,1310.8 L3039.0,1311.0 L3040.0,1311.2 L3041.0,1311.6 L3042.0,1312.0 L3043.0,1312.4 L3044.0,1312.9 L3045.0,1313.5 L3046.0,1314.2 L3047.0,1314.9 L3048.0,1315.6 L3049.0,1316.4 L3050.0,1317.3 L3051.0,1318.2 L3052.0,1319.2 L3053.0,1320.2 L3054.0,1321.2 L3055.0,1322.3 L3056.0,1323.4 L3057.0,1324.5 L3058.0,1325.7 L3059.0,1326.9 L3060.0,1328.1 L3061.0,1329.3 L3062.0,1330.5 L3063.0,1331.8 L3064.0,1333.0 L3065.0,1334.2 L3066.0,1335.5 L3067.0,1336.7 L3068.0,1337.9 L3069.0,1339.1 L3070.0,1340.3 L3071.0,1341.5 L3072.0,1342.6 L3073.0,1343.7 L3074.0,1344.8 L3075.0,1345.8 L3076.0,1346.8 L3077.0,1347.7 L3078.0,1348.6 L3079.0,1349.5 L3080.0,1350.3 L3081.0,1351.0 L3082.0,1351.7 L3083.0,1352.4 L3084.0,1352.9 L3085.0,1353.5 L3086.0,1353.9 L3087.0,1354.3 L3088.0,1354.6 L3089.0,1354.9 L3090.0,1355.0 L3091.0,1355.2 L3092.0,1355.2 L3093.0,1355.2 L3094.0,1355.1 L3095.0,1354.9 L3096.0,1354.7 L3097.0,1354.4 L3098.0,1354.0 L3099.0,1353.6 L3100.0,1353.1 L3101.0,1352.5 L3102.0,1351.9 L3103.0,1351.3 L3104.0,1350.5 L3105.0,1349.7 L3106.0,1348.9 L3107.0,1348.0 L3108.0,1347.1 L3109.0,1346.1 L3110.0,1345.1 L3111.0,1344.0 L3112.0,1342.9 L3113.0,1341.8 L3114.0,1340.6 L3115.0,1339.5 L3116.0,1338.3 L3117.0,1337.1 L3118.0,1335.8 L3119.0,1334.6 L3120.0,1333.4 L3121.0,1332.1 L3122.0,1330.9 L3123.0,1329.7 L3124.0,1328.4 L3125.0,1327.2 L3126.0,1326.0 L3127.0,1324.9 L3128.0,1323.7 L3129.0,1322.6 L3130.0,1321.5 L3131.0,1320.5 L3132.0,1319.5 L3133.0,1318.5 L3134.0,1317.6 L3135.0,1316.7 L3136.0,1315.9 L3137.0,1315.1 L3138.0,1314.4 L3139.0,1313.7 L3140.0,1313.1 L3141.0,1312.6 L3142.0,1312.1 L3143.0,1311.7 L3144.0,1311.3 L3145.0,1311.0 L3146.0,1310.8 L3147.0,1310.7 L3148.0,1310.6 L3149.0,1310.6 L3150.0,1310.7 L3151.0,1310.8 L3152.0,1311.0 L3153.0,1311.3 L3154.0,1311.6 L3155.0,1312.0 L3156.0,1312.5 L3157.0,1313.0 L3158.0,1313.6 L3159.0,1314.2 L3160.0,1314.9 L3161.0,1315.7 L3162.0,1316.5 L3163.0,1317.4 L3164.0,1318.3 L3165.0,1319.3 L3166.0,1320.3 L3167.0,1321.3 L3168.0,1322.4 L3169.0,1323.5 L3170.0,1324.6 L3171.0,1325.8 L3172.0,1327.0 L3173.0,1328.2 L3174.0,1329.4 L3175.0,1330.6 L3176.0,1331.9 L3177.0,1333.1 L3178.0,1334.4 L3179.0,1335.6 L3180.0,1336.8 L3181.0,1338.0 L3182.0,1339.2 L3183.0,1340.4 L3184.0,1341.6 L3185.0,1342.7 L3186.0,1343.8 L3187.0,1344.9 L3188.0,1345.9 L3189.0,1346.9 L3190.0,1347.8 L3191.0,1348.7 L3192.0,1349.6 L3193.0,1350.4 L3194.0,1351.1 L3195.0,1351.8 L3196.0,1352.4 L3197.0,1353.0 L3198.0,1353.5 L3199.0,1353.9 L3200.0,1354.3 L3201.0,1354.6 L3202.0,1354.9 L3203.0,1355.1 L3204.0,1355.2 L3205.0,1355.2 L3206.0,1355.2 L3207.0,1355.1 L3208.0,1354.9 L3209.0,1354.7 L3210.0,1354.4 L3211.0,1354.0 L3212.0,1353.6 L3213.0,1353.1 L3214.0,1352.5 L3215.0,1351.9 L3216.0,1351.2 L3217.0,1350.4 L3218.0,1349.7 L3219.0,1348.8 L3220.0,1347.9 L3221.0,1347.0 L3222.0,1346.0 L3223.0,1345.0 L3224.0,1343.9 L3225.0,1342.8 L3226.0,1341.7 L3227.0,1340.5 L3228.0,1339.4 L3229.0,1338.2 L3230.0,1336.9 L3231.0,1335.7 L3232.0,1334.5 L3233.0,1333.2 L3234.0,1332.0 L3235.0,1330.8 L3236.0,1329.5 L3237.0,1328.3 L3238.0,1327.1 L3239.0,1325.9 L3240.0,1324.7 L3241.0,1323.6 L3242.0,1322.5 L3243.0,1321.4 L3244.0,1320.4 L3245.0,1319.4 L3246.0,1318.4 L3247.0,1317.5 L3248.0,1316.6 L3249.0,1315.8 L3250.0,1315.0 L3251.0,1314.3 L3252.0,1313.6 L3253.0,1313.0 L3254.0,1312.5 L3255.0,1312.0 L3256.0,1311.6 L3257.0,1311.3 L3258.0,1311.0 L3259.0,1310.8 L3260.0,1310.7 L3261.0,1310.6 L3262.0,1310.6 L3263.0,1310.7 L3264.0,1310.8 L3265.0,1311.0 L3266.0,1311.3 L3267.0,1311.6 L3268.0,1312.0 L3269.0,1312.5 L3270.0,1313.0 L3271.0,1313.6 L3272.0,1314.3 L3273.0,1315.0 L3274.0,1315.8 L3275.0,1316.6 L3276.0,1317.5 L3277.0,1318.4 L3278.0,1319.4 L3279.0,1320.4 L3280.0,1321.4 L3281.0,1322.5 L3282.0,1323.6 L3283.0,1324.7 L3284.0,1325.9 L3285.0,1327.1 L3286.0,1328.3 L3287.0,1329.5 L3288.0,1330.8 L3289.0,1332.0 L3290.0,1333.2 L3291.0,1334.5 L3292.0,1335.7 L3293.0,1336.9 L3294.0,1338.2 L3295.0,1339.4 L3296.0,1340.5 L3297.0,1341.7 L3298.0,1342.8 L3299.0,1343.9 L3300.0,1345.0 L3301.0,1346.0 L3302.0,1347.0 L3303.0,1347.9 L3304.0,1348.8 L3305.0,1349.7 L3306.0,1350.4 L3307.0,1351.2 L3308.0,1351.9 L3309.0,1352.5 L3310.0,1353.1 L3311.0,1353.6 L3312.0,1354.0 L3313.0,1354.4 L3314.0,1354.7 L3315.0,1354.9 L3316.0,1355.1 L3317.0,1355.2 L3318.0,1355.2 L3319.0,1355.2 L3320.0,1355.1 L3321.0,1354.9 L3322.0,1354.6 L3323.0,1354.3 L3324.0,1353.9 L3325.0,1353.5 L3326.0,1353.0 L3327.0,1352.4 L3328.0,1351.8 L3329.0,1351.1 L3330.0,1350.4 L3331.0,1349.6 L3332.0,1348.7 L3333.0,1347.8 L3334.0,1346.9 L3335.0,1345.9 L3336.0,1344.9 L3337.0,1343.8 L3338.0,1342.7 L3339.0,1341.6 L3340.0,1340.4 L3341.0,1339.2 L3342.0,1338.0 L3343.0,1336.8 L3344.0,1335.6 L3345.0,1334.4 L3346.0,1333.1 L3347.0,1331.9 L3348.0,1330.6 L3349.0,1329.4 L3350.0,1328.2 L3351.0,1327.0 L3352.0,1325.8 L3353.0,1324.6 L3354.0,1323.5 L3355.0,1322.4 L3356.0,1321.3 L3357.0,1320.3 L3358.0,1319.3 L3359.0,1318.3 L3360.0,1317.4 L3361.0,1316.5 L3362.0,1315.7 L3363.0,1314.9 L3364.0,1314.2 L3365.0,1313.6 L3366.0,1313.0 L3367.0,1312.5 L3368.0,1312.0 L3369.0,1311.6 L3370.0,1311.3 L3371.0,1311.0 L3372.0,1310.8 L3373.0,1310.7 L3374.0,1310.6 L3375.0,1310.6 L3376.0,1310.7 L3377.0,1310.8 L3378.0,1311.0 L3379.0,1311.3 L3380.0,1311.7 L3381.0,1312.1 L3382.0,1312.6 L3383.0,1313.1 L3384.0,1313.7 L3385.0,1314.4 L3386.0,1315.1 L3387.0,1315.9 L3388.0,1316.7 L3389.0,1317.6 L3390.0,1318.5 L3391.0,1319.5 L3392.0,1320.5 L3393.0,1321.5 L3394.0,1322.6 L3395.0,1323.7 L3396.0,1324.9 L3397.0,1326.0 L3398.0,1327.2 L3399.0,1328.4 L3400.0,1329.7 L3401.0,1330.9 L3402.0,1332.1 L3403.0,1333.4 L3404.0,1334.6 L3405.0,1335.8 L3406.0,1337.1 L3407.0,1338.3 L3408.0,1339.5 L3409.0,1340.6 L3410.0,1341.8 L3411.0,1342.9 L3412.0,1344.0 L3413.0,1345.1 L3414.0,1346.1 L3415.0,1347.1 L3416.0,1348.0 L3417.0,1348.9 L3418.0,1349.7 L3419.0,1350.5 L3420.0,1351.3 L3421.0,1351.9 L3422.0,1352.5 L3423.0,1353.1 L3424.0,1353.6 L3425.0,1354.0 L3426.0,1354.4 L3427.0,1354.7 L3428.0,1354.9 L3429.0,1355.1 L3430.0,1355.2 L3431.0,1355.2 L3432.0,1355.2 L3433.0,1355.0 L3434.0,1354.9 L3435.0,1354.6 L3436.0,1354.3 L3437.0,1353.9 L3438.0,1353.5 L3439.0,1352.9 L3440.0,1352.4 L3441.0,1351.7 L3442.0,1351.0 L3443.0,1350.3 L3444.0,1349.5 L3445.0,1348.6 L3446.0,1347.7 L3447.0,1346.8 L3448.0,1345.8 L3449.0,1344.8 L3450.0,1343.7 L3451.0,1342.6 L3452.0,1341.5 L3453.0,1340.3 L3454.0,1339.1 L3455.0,1337.9 L3456.0,1336.7 L3457.0,1335.5 L3458.0,1334.2 L3459.0,1333.0 L3460.0,1331.8 L3461.0,1330.5 L3462.0,1329.3 L3463.0,1328.1 L3464.0,1326.9 L3465.0,1325.7 L3466.0,1324.5 L3467.0,1323.4 L3468.0,1322.3 L3469.0,1321.2 L3470.0,1320.2 L3471.0,1319.2 L3472.0,1318.2 L3473.0,1317.3 L3474.0,1316.4 L3475.0,1315.6 L3476.0,1314.9 L3477.0,1314.2 L3478.0,1313.5 L3479.0,1312.9 L3480.0,1312.4 L3481.0,1312.0 L3482.0,1311.6 L3483.0,1311.2 L3484.0,1311.0 L3485.0,1310.8 L3486.0,1310.7 L3487.0,1310.6 L3488.0,1310.6 L3489.0,1310.7 L3490.0,1310.9 L3491.0,1311.1 L3492.0,1311.4 L3493.0,1311.7 L3494.0,1312.1 L3495.0,1312.6 L3496.0,1313.2 L3497.0,1313.8 L3498.0,1314.4 L3499.0,1315.2 L3500.0,1315.9 L3501.0,1316.8 L3502.0,1317.7 L3503.0,1318.6 L3504.0,1319.6 L3505.0,1320.6 L3506.0,1321.6 L3507.0,1322.7 L3508.0,1323.8 L3509.0,1325.0 L3510.0,1326.2 L3511.0,1327.3 L3512.0,1328.6 L3513.0,1329.8 L3514.0,1331.0 L3515.0,1332.2 L3516.0,1333.5 L3517.0,1334.7 L3518.0,1336.0 L3519.0,1337.2 L3520.0,1338.4 L3521.0,1339.6 L3522.0,1340.8 L3523.0,1341.9 L3524.0,1343.0 L3525.0,1344.1 L3526.0,1345.2 L3527.0,1346.2 L3528.0,1347.2 L3529.0,1348.1 L3530.0,1349.0 L3531.0,1349.8 L3532.0,1350.6 L3533.0,1351.3 L3534.0,1352.0 L3535.0,1352.6 L3536.0,1353.2 L3537.0,1353.6 L3538.0,1354.1 L3539.0,1354.4 L3540.0,1354.7 L3541.0,1354.9 L3542.0,1355.1 L3543.0,1355.2 L3544.0,1355.2 L3545.0,1355.1 L3546.0,1355.0 L3547.0,1354.8 L3548.0,1354.6 L3549.0,1354.3 L3550.0,1353.9 L3551.0,1353.4 L3552.0,1352.9 L3553.0,1352.3 L3554.0,1351.7 L3555.0,1351.0 L3556.0,1350.2 L3557.0,1349.4 L3558.0,1348.5 L3559.0,1347.6 L3560.0,1346.7 L3561.0,1345.7 L3562.0,1344.7 L3563.0,1343.6 L3564.0,1342.5 L3565.0,1341.3 L3566.0,1340.2 L3567.0,1339.0 L3568.0,1337.8 L3569.0,1336.6 L3570.0,1335.3 L3571.0,1334.1 L3572.0,1332.9 L3573.0,1331.6 L3574.0,1330.4 L3575.0,1329.2 L3576.0,1327.9 L3577.0,1326.7 L3578.0,1325.6 L3579.0,1324.4 L3580.0,1323.3 L3581.0,1322.2 L3582.0,1321.1 L3583.0,1320.1 L3584.0,1319.1 L3585.0,1318.1 L3586.0,1317.2 L3587.0,1316.4 L3588.0,1315.5 L3589.0,1314.8 L3590.0,1314.1 L3591.0,1313.5 L3592.0,1312.9 L3593.0,1312.4 L3594.0,1311.9 L3595.0,1311.5 L3596.0,1311.2 L3597.0,1311.0 L3598.0,1310.8 L3599.0,1310.6 L3600.0,1310.6 L3601.0,1310.6 L3602.0,1310.7 L3603.0,1310.9 L3604.0,1311.1 L3605.0,1311.4 L3606.0,1311.8 L3607.0,1312.2 L3608.0,1312.7 L3609.0,1313.2 L3610.0,1313.8 L3611.0,1314.5 L3612.0,1315.2 L3613.0,1316.0 L3614.0,1316.9 L3615.0,1317.7 L3616.0,1318.7 L3617.0,1319.7 L3618.0,1320.7 L3619.0,1321.7 L3620.0,1322.8 L3621.0,1323.9 L3622.0,1325.1 L3623.0,1326.3 L3624.0,1327.5 L3625.0,1328.7 L3626.0,1329.9 L3627.0,1331.1 L3628.0,1332.4 L3629.0,1333.6 L3630.0,1334.9 L3631.0,1336.1 L3632.0,1337.3 L3633.0,1338.5 L3634.0,1339.7 L3635.0,1340.9 L3636.0,1342.0 L3637.0,1343.1 L3638.0,1344.2 L3639.0,1345.3 L3640.0,1346.3 L3641.0,1347.3 L3642.0,1348.2 L3643.0,1349.1 L3644.0,1349.9 L3645.0,1350.7 L3646.0,1351.4 L3647.0,1352.1 L3648.0,1352.7 L3649.0,1353.2 L3650.0,1353.7 L3651.0,1354.1 L3652.0,1354.5 L3653.0,1354.7 L3654.0,1355.0 L3655.0,1355.1 L3656.0,1355.2 L3657.0,1355.2 L3658.0,1355.1 L3659.0,1355.0 L3660.0,1354.8 L3661.0,1354.5 L3662.0,1354.2 L3663.0,1353.8 L3664.0,1353.4 L3665.0,1352.8 L3666.0,1352.2 L3667.0,1351.6 L3668.0,1350.9 L3669.0,1350.1 L3670.0,1349.3 L3671.0,1348.5 L3672.0,1347.5 L3673.0,1346.6 L3674.0,1345.6 L3675.0,1344.5 L3676.0,1343.5 L3677.0,1342.4 L3678.0,1341.2 L3679.0,1340.1 L3680.0,1338.9 L3681.0,1337.7 L3682.0,1336.5 L3683.0,1335.2 L3684.0,1334.0 L3685.0,1332.7 L3686.0,1331.5 L3687.0,1330.3 L3688.0,1329.0 L3689.0,1327.8 L3690.0,1326.6 L3691.0,1325.4 L3692.0,1324.3 L3693.0,1323.2 L3694.0,1322.1 L3695.0,1321.0 L3696.0,1320.0 L3697.0,1319.0 L3698.0,1318.0 L3699.0,1317.1 L3700.0,1316.3 L3701.0,1315.5 L3702.0,1314.7 L3703.0,1314.0 L3704.0,1313.4 L3705.0,1312.8 L3706.0,1312.3 L3707.0,1311.9 L3708.0,1311.5 L3709.0,1311.2 L3710.0,1310.9 L3711.0,1310.8 L3712.0,1310.6 L3713.0,1310.6 L3714.0,1310.6 L3715.0,1310.7 L3716.0,1310.9 L3717.0,1311.1 L3718.0,1311.4 L3719.0,1311.8 L3720.0,1312.2 L3721.0,1312.7 L3722.0,1313.3 L3723.0,1313.9 L3724.0,1314.6 L3725.0,1315.3 L3726.0,1316.1 L3727.0,1316.9 L3728.0,1317.8 L3729.0,1318.8 L3730.0,1319.8 L3731.0,1320.8 L3732.0,1321.8 L3733.0,1322.9 L3734.0,1324.1 L3735.0,1325.2 L3736.0,1326.4 L3737.0,1327.6 L3738.0,1328.8 L3739.0,1330.0 L3740.0,1331.3 L3741.0,1332.5 L3742.0,1333.7 L3743.0,1335.0 L3744.0,1336.2 L3745.0,1337.4 L3746.0,1338.6 L3747.0,1339.8 L3748.0,1341.0 L3749.0,1342.1 L3750.0,1343.3 L3751.0,1344.3 L3752.0,1345.4 L3753.0,1346.4 L3754.0,1347.4 L3755.0,1348.3 L3756.0,1349.2 L3757.0,1350.0 L3758.0,1350.7 L3759.0,1351.5 L3760.0,1352.1 L3761.0,1352.7 L3762.0,1353.3 L3763.0,1353.7 L3764.0,1354.1 L3765.0,1354.5" stroke="#c9c9c9"/><path d="M2850.0,1311.4 L2851.0,1311.7 L2852.0,1312.1 L2853.0,1312.6 L2854.0,1313.2 L2855.0,1313.8 L2856.0,1314.4 L2857.0,1315.2 L2858.0,1315.9 L2859.0,1316.8 L2860.0,1317.7 L2861.0,1318.6 L2862.0,1319.6 L2863.0,1320.6 L2864.0,1321.6 L2865.0,1322.7 L2866.0,1323.8 L2867.0,1325.0 L2868.0,1326.2 L2869.0,1327.3 L2870.0,1328.6 L2871.0,1329.8 L2872.0,1331.0 L2873.0,1332.2 L2874.0,1333.5 L2875.0,1334.7 L2876.0,1336.0 L2877.0,1337.2 L2878.0,1338.4 L2879.0,1339.6 L2880.0,1340.8 L2881.0,1341.9 L2882.0,1343.0 L2883.0,1344.1 L2884.0,1345.2 L2885.0,1346.2 L2886.0,1347.2 L2887.0,1348.1 L2888.0,1349.0 L2889.0,1349.8 L2890.0,1350.6 L2891.0,1351.3 L2892.0,1352.0 L2893.0,1352.6 L2894.0,1353.2 L2895.0,1353.6 L2896.0,1354.1 L2897.0,1354.4 L2898.0,1354.7 L2899.0,1354.9 L2900.0,1355.1 L2901.0,1355.2 L2902.0,1355.2 L2903.0,1355.1 L2904.0,1355.0 L2905.0,1354.8 L2906.0,1354.6 L2907.0,1354.3 L2908.0,1353.9 L2909.0,1353.4 L2910.0,1352.9 L2911.0,1352.3 L2912.0,1351.7 L2913.0,1351.0 L2914.0,1350.2 L2915.0,1349.4 L2916.0,1348.5 L2917.0,1347.6 L2918.0,1346.7 L2919.0,1345.7 L2920.0,1344.7 L2921.0,1343.6 L2922.0,1342.5 L2923.0,1341.3 L2924.0,1340.2 L2925.0,1339.0 L2926.0,1337.8 L2927.0,1336.6 L2928.0,1335.3 L2929.0,1334.1 L2930.0,1332.9 L2931.0,1331.6 L2932.0,1330.4 L2933.0,1329.2 L2934.0,1327.9 L2935.0,1326.7 L2936.0,1325.6 L2937.0,1324.4 L2938.0,1323.3 L2939.0,1322.2 L2940.0,1321.1 L2941.0,1320.1 L2942.0,1319.1 L2943.0,1318.1 L2944.0,1317.2 L2945.0,1316.4 L2946.0,1315.5 L2947.0,1314.8 L2948.0,1314.1 L2949.0,1313.5 L2950.0,1312.9 L2951.0,1312.4 L2952.0,1311.9 L2953.0,1311.5 L2954.0,1311.2 L2955.0,1311.0 L2956.0,1310.8 L2957.0,1310.6 L2958.0,1310.6 L2959.0,1310.6 L2960.0,1310.7 L2961.0,1310.9 L2962.0,1311.1 L2963.0,1311.4 L2964.0,1311.8 L2965.0,1312.2 L2966.0,1312.7 L2967.0,1313.2 L2968.0,1313.8 L2969.0,1314.5 L2970.0,1315.2 L2971.0,1316.0 L2972.0,1316.9 L2973.0,1317.7 L2974.0,1318.7 L2975.0,1319.7 L2976.0,1320.7 L2977.0,1321.7 L2978.0,1322.8 L2979.0,1323.9 L2980.0,1325.1 L2981.0,1326.3 L2982.0,1327.5 L2983.0,1328.7 L2984.0,1329.9 L2985.0,1331.1 L2986.0,1332.4 L2987.0,1333.6 L2988.0,1334.9 L2989.0,1336.1 L2990.0,1337.3 L2991.0,1338.5 L2992.0,1339.7 L2993.0,1340.9 L2994.0,1342.0 L2995.0,1343.1 L2996.0,1344.2 L2997.0,1345.3 L2998.0,1346.3 L2999.0,1347.3 L3000.0,1348.2 L3001.0,1349.1 L3002.0,1349.9 L3003.0,1350.7 L3004.0,1351.4 L3005.0,1352.1 L3006.0,1352.7 L3007.0,1353.2 L3008.0,1353.7 L3009.0,1354.1 L3010.0,1354.5 L3011.0,1354.7 L3012.0,1355.0 L3013.0,1355.1 L3014.0,1355.2 L3015.0,1355.2 L3016.0,1355.1 L3017.0,1355.0 L3018.0,1354.8 L3019.0,1354.5 L3020.0,1354.2 L3021.0,1353.8 L3022.0,1353.4 L3023.0,1352.8 L3024.0,1352.2 L3025.0,1351.6 L3026.0,1350.9 L3027.0,1350.1 L3028.0,1349.3 L3029.0,1348.5 L3030.0,1347.5 L3031.0,1346.6 L3032.0,1345.6 L3033.0,1344.5 L3034.0,1343.5 L3035.0,1342.4 L3036.0,1341.2 L3037.0,1340.1 L3038.0,1338.9 L3039.0,1337.7 L3040.0,1336.5 L3041.0,1335.2 L3042.0,1334.0 L3043.0,1332.7 L3044.0,1331.5 L3045.0,1330.3 L3046.0,1329.0 L3047.0,1327.8 L3048.0,1326.6 L3049.0,1325.4 L3050.0,1324.3 L3051.0,1323.2 L3052.0,1322.1 L3053.0,1321.0 L3054.0,1320.0 L3055.0,1319.0 L3056.0,1318.0 L3057.0,1317.1 L3058.0,1316.3 L3059.0,1315.5 L3060.0,1314.7 L3061.0,1314.0 L3062.0,1313.4 L3063.0,1312.8 L3064.0,1312.3 L3065.0,1311.9 L3066.0,1311.5 L3067.0,1311.2 L3068.0,1310.9 L3069.0,1310.8 L3070.0,1310.6 L3071.0,1310.6 L3072.0,1310.6 L3073.0,1310.7 L3074.0,1310.9 L3075.0,1311.1 L3076.0,1311.4 L3077.0,1311.8 L3078.0,1312.2 L3079.0,1312.7 L3080.0,1313.3 L3081.0,1313.9 L3082.0,1314.6 L3083.0,1315.3 L3084.0,1316.1 L3085.0,1316.9 L3086.0,1317.8 L3087.0,1318.8 L3088.0,1319.8 L3089.0,1320.8 L3090.0,1321.8 L3091.0,1322.9 L3092.0,1324.1 L3093.0,1325.2 L3094.0,1326.4 L3095.0,1327.6 L3096.0,1328.8 L3097.0,1330.0 L3098.0,1331.3 L3099.0,1332.5 L3100.0,1333.7 L3101.0,1335.0 L3102.0,1336.2 L3103.0,1337.4 L3104.0,1338.6 L3105.0,1339.8 L3106.0,1341.0 L3107.0,1342.1 L3108.0,1343.3 L3109.0,1344.3 L3110.0,1345.4 L3111.0,1346.4 L3112.0,1347.4 L3113.0,1348.3 L3114.0,1349.2 L3115.0,1350.0 L3116.0,1350.7 L3117.0,1351.5 L3118.0,1352.1 L3119.0,1352.7 L3120.0,1353.3 L3121.0,1353.7 L3122.0,1354.1 L3123.0,1354.5 L3124.0,1354.8 L3125.0,1355.0 L3126.0,1355.1 L3127.0,1355.2 L3128.0,1355.2 L3129.0,1355.1 L3130.0,1355.0 L3131.0,1354.8 L3132.0,1354.5 L3133.0,1354.2 L3134.0,1353.8 L3135.0,1353.3 L3136.0,1352.8 L3137.0,1352.2 L3138.0,1351.5 L3139.0,1350.8 L3140.0,1350.1 L3141.0,1349.2 L3142.0,1348.4 L3143.0,1347.5 L3144.0,1346.5 L3145.0,1345.5 L3146.0,1344.4 L3147.0,1343.4 L3148.0,1342.3 L3149.0,1341.1 L3150.0,1339.9 L3151.0,1338.8 L3152.0,1337.6 L3153.0,1336.3 L3154.0,1335.1 L3155.0,1333.9 L3156.0,1332.6 L3157.0,1331.4 L3158.0,1330.1 L3159.0,1328.9 L3160.0,1327.7 L3161.0,1326.5 L3162.0,1325.3 L3163.0,1324.2 L3164.0,1323.0 L3165.0,1321.9 L3166.0,1320.9 L3167.0,1319.9 L3168.0,1318.9 L3169.0,1317.9 L3170.0,1317.0 L3171.0,1316.2 L3172.0,1315.4 L3173.0,1314.6 L3174.0,1314.0 L3175.0,1313.3 L3176.0,1312.8 L3177.0,1312.3 L3178.0,1311.8 L3179.0,1311.5 L3180.0,1311.2 L3181.0,1310.9 L3182.0,1310.7 L3183.0,1310.6 L3184.0,1310.6 L3185.0,1310.6 L3186.0,1310.7 L3187.0,1310.9 L3188.0,1311.2 L3189.0,1311.5 L3190.0,1311.8 L3191.0,1312.3 L3192.0,1312.8 L3193.0,1313.3 L3194.0,1314.0 L3195.0,1314.6 L3196.0,1315.4 L3197.0,1316.2 L3198.0,1317.0 L3199.0,1317.9 L3200.0,1318.9 L3201.0,1319.9 L3202.0,1320.9 L3203.0,1321.9 L3204.0,1323.0 L3205.0,1324.2 L3206.0,1325.3 L3207.0,1326.5 L3208.0,1327.7 L3209.0,1328.9 L3210.0,1330.1 L3211.0,1331.4 L3212.0,1332.6 L3213.0,1333.9 L3214.0,1335.1 L3215.0,1336.3 L3216.0,1337.6 L3217.0,1338.8 L3218.0,1339.9 L3219.0,1341.1 L3220.0,1342.3 L3221.0,1343.4 L3222.0,1344.4 L3223.0,1345.5 L3224.0,1346.5 L3225.0,1347.5 L3226.0,1348.4 L3227.0,1349.2 L3228.0,1350.1 L3229.0,1350.8 L3230.0,1351.5 L3231.0,1352.2 L3232.0,1352.8 L3233.0,1353.3 L3234.0,1353.8 L3235.0,1354.2 L3236.0,1354.5 L3237.0,1354.8 L3238.0,1355.0 L3239.0,1355.1 L3240.0,1355.2 L3241.0,1355.2 L3242.0,1355.1 L3243.0,1355.0 L3244.0,1354.8 L3245.0,1354.5 L3246.0,1354.1 L3247.0,1353.7 L3248.0,1353.3 L3249.0,1352.7 L3250.0,1352.1 L3251.0,1351.5 L3252.0,1350.7 L3253.0,1350.0 L3254.0,1349.2 L3255.0,1348.3 L3256.0,1347.4 L3257.0,1346.4 L3258.0,1345.4 L3259.0,1344.3 L3260.0,1343.3 L3261.0,1342.1 L3262.0,1341.0 L3263.0,1339.8 L3264.0,1338.6 L3265.0,1337.4 L3266.0,1336.2 L3267.0,1335.0 L3268.0,1333.7 L3269.0,1332.5 L3270.0,1331.3 L3271.0,1330.0 L3272.0,1328.8 L3273.0,1327.6 L3274.0,1326.4 L3275.0,1325.2 L3276.0,1324.1 L3277.0,1322.9 L3278.0,1321.8 L3279.0,1320.8 L3280.0,1319.8 L3281.0,1318.8 L3282.0,1317.8 L3283.0,1316.9 L3284.0,1316.1 L3285.0,1315.3 L3286.0,1314.6 L3287.0,1313.9 L3288.0,1313.3 L3289.0,1312.7 L3290.0,1312.2 L3291.0,1311.8 L3292.0,1311.4 L3293.0,1311.1 L3294.0,1310.9 L3295.0,1310.7 L3296.0,1310.6 L3297.0,1310.6 L3298.0,1310.6 L3299.0,1310.8 L3300.0,1310.9 L3301.0,1311.2 L3302.0,1311.5 L3303.0,1311.9 L3304.0,1312.3 L3305.0,1312.8 L3306.0,1313.4 L3307.0,1314.0 L3308.0,1314.7 L3309.0,1315.5 L3310.0,1316.3 L3311.0,1317.1 L3312.0,1318.0 L3313.0,1319.0 L3314.0,1320.0 L3315.0,1321.0 L3316.0,1322.1 L3317.0,1323.2 L3318.0,1324.3 L3319.0,1325.4 L3320.0,1326.6 L3321.0,1327.8 L3322.0,1329.0 L3323.0,1330.3 L3324.0,1331.5 L3325.0,1332.7 L3326.0,1334.0 L3327.0,1335.2 L3328.0,1336.5 L3329.0,1337.7 L3330.0,1338.9 L3331.0,1340.1 L3332.0,1341.2 L3333.0,1342.4 L3334.0,1343.5 L3335.0,1344.5 L3336.0,1345.6 L3337.0,1346.6 L3338.0,1347.5 L3339.0,1348.5 L3340.0,1349.3 L3341.0,1350.1 L3342.0,1350.9 L3343.0,1351.6 L3344.0,1352.2 L3345.0,1352.8 L3346.0,1353.4 L3347.0,1353.8 L3348.0,1354.2 L3349.0,1354.5 L3350.0,1354.8 L3351.0,1355.0 L3352.0,1355.1 L3353.0,1355.2 L3354.0,1355.2 L3355.0,1355.1 L3356.0,1355.0 L3357.0,1354.7 L3358.0,1354.5 L3359.0,1354.1 L3360.0,1353.7 L3361.0,1353.2 L3362.0,1352.7 L3363.0,1352.1 L3364.0,1351.4 L3365.0,1350.7 L3366.0,1349.9 L3367.0,1349.1 L3368.0,1348.2 L3369.0,1347.3 L3370.0,1346.3 L3371.0,1345.3 L3372.0,1344.2 L3373.0,1343.1 L3374.0,1342.0 L3375.0,1340.9 L3376.0,1339.7 L3377.0,1338.5 L3378.0,1337.3 L3379.0,1336.1 L3380.0,1334.9 L3381.0,1333.6 L3382.0,1332.4 L3383.0,1331.1 L3384.0,1329.9 L3385.0,1328.7 L3386.0,1327.5 L3387.0,1326.3 L3388.0,1325.1 L3389.0,1323.9 L3390.0,1322.8 L3391.0,1321.7 L3392.0,1320.7 L3393.0,1319.7 L3394.0,1318.7 L3395.0,1317.7 L3396.0,1316.9 L3397.0,1316.0 L3398.0,1315.2 L3399.0,1314.5 L3400.0,1313.8 L3401.0,1313.2 L3402.0,1312.7 L3403.0,1312.2 L3404.0,1311.8 L3405.0,1311.4 L3406.0,1311.1 L3407.0,1310.9 L3408.0,1310.7 L3409.0,1310.6 L3410.0,1310.6 L3411.0,1310.6 L3412.0,1310.8 L3413.0,1311.0 L3414.0,1311.2 L3415.0,1311.5 L3416.0,1311.9 L3417.0,1312.4 L3418.0,1312.9 L3419.0,1313.5 L3420.0,1314.1 L3421.0,1314.8 L3422.0,1315.5 L3423.0,1316.4 L3424.0,1317.2 L3425.0,1318.1 L3426.0,1319.1 L3427.0,1320.1 L3428.0,1321.1 L3429.0,1322.2 L3430.0,1323.3 L3431.0,1324.4 L3432.0,1325.6 L3433.0,1326.7 L3434.0,1327.9 L3435.0,1329.2 L3436.0,1330.4 L3437.0,1331.6 L3438.0,1332.9 L3439.0,1334.1 L3440.0,1335.3 L3441.0,1336.6 L3442.0,1337.8 L3443.0,1339.0 L3444.0,1340.2 L3445.0,1341.3 L3446.0,1342.5 L3447.0,1343.6 L3448.0,1344.7 L3449.0,1345.7 L3450.0,1346.7 L3451.0,1347.6 L3452.0,1348.5 L3453.0,1349.4 L3454.0,1350.2 L3455.0,1351.0 L3456.0,1351.7 L3457.0,1352.3 L3458.0,1352.9 L3459.0,1353.4 L3460.0,1353.9 L3461.0,1354.3 L3462.0,1354.6 L3463.0,1354.8 L3464.0,1355.0 L3465.0,1355.1 L3466.0,1355.2 L3467.0,1355.2 L3468.0,1355.1 L3469.0,1354.9 L3470.0,1354.7 L3471.0,1354.4 L3472.0,1354.1 L3473.0,1353.6 L3474.0,1353.2 L3475.0,1352.6 L3476.0,1352.0 L3477.0,1351.3 L3478.0,1350.6 L3479.0,1349.8 L3480.0,1349.0 L3481.0,1348.1 L3482.0,1347.2 L3483.0,1346.2 L3484.0,1345.2 L3485.0,1344.1 L3486.0,1343.0 L3487.0,1341.9 L3488.0,1340.8 L3489.0,1339.6 L3490.0,1338.4 L3491.0,1337.2 L3492.0,1336.0 L3493.0,1334.7 L3494.0,1333.5 L3495.0,1332.2 L3496.0,1331.0 L3497.0,1329.8 L3498.0,1328.6 L3499.0,1327.3 L3500.0,1326.2 L3501.0,1325.0 L3502.0,1323.8 L3503.0,1322.7 L3504.0,1321.6 L3505.0,1320.6 L3506.0,1319.6 L3507.0,1318.6 L3508.0,1317.7 L3509.0,1316.8 L3510.0,1315.9 L3511.0,1315.2 L3512.0,1314.4 L3513.0,1313.8 L3514.0,1313.2 L3515.0,1312.6 L3516.0,1312.1 L3517.0,1311.7 L3518.0,1311.4 L3519.0,1311.1 L3520.0,1310.9 L3521.0,1310.7 L3522.0,1310.6 L3523.0,1310.6 L3524.0,1310.7 L3525.0,1310.8 L3526.0,1311.0 L3527.0,1311.2 L3528.0,1311.6 L3529.0,1312.0 L3530.0,1312.4 L3531.0,1312.9 L3532.0,1313.5 L3533.0,1314.2 L3534.0,1314.9 L3535.0,1315.6 L3536.0,1316.4 L3537.0,1317.3 L3538.0,1318.2 L3539.0,1319.2 L3540.0,1320.2 L3541.0,1321.2 L3542.0,1322.3 L3543.0,1323.4 L3544.0,1324.5 L3545.0,1325.7 L3546.0,1326.9 L3547.0,1328.1 L3548.0,1329.3 L3549.0,1330.5 L3550.0,1331.8 L3551.0,1333.0 L3552.0,1334.2 L3553.0,1335.5 L3554.0,1336.7 L3555.0,1337.9 L3556.0,1339.1 L3557.0,1340.3 L3558.0,1341.5 L3559.0,1342.6 L3560.0,1343.7 L3561.0,1344.8 L3562.0,1345.8 L3563.0,1346.8 L3564.0,1347.7 L3565.0,1348.6 L3566.0,1349.5 L3567.0,1350.3 L3568.0,1351.0 L3569.0,1351.7 L3570.0,1352.4 L3571.0,1352.9 L3572.0,1353.5 L3573.0,1353.9 L3574.0,1354.3 L3575.0,1354.6 L3576.0,1354.9 L3577.0,1355.0 L3578.0,1355.2 L3579.0,1355.2 L3580.0,1355.2 L3581.0,1355.1 L3582.0,1354.9 L3583.0,1354.7 L3584.0,1354.4 L3585.0,1354.0 L3586.0,1353.6 L3587.0,1353.1 L3588.0,1352.5 L3589.0,1351.9 L3590.0,1351.3 L3591.0,1350.5 L3592.0,1349.7 L3593.0,1348.9 L3594.0,1348.0 L3595.0,1347.1 L3596.0,1346.1 L3597.0,1345.1 L3598.0,1344.0 L3599.0,1342.9 L3600.0,1341.8 L3601.0,1340.6 L3602.0,1339.5 L3603.0,1338.3 L3604.0,1337.1 L3605.0,1335.8 L3606.0,1334.6 L3607.0,1333.4 L3608.0,1332.1 L3609.0,1330.9 L3610.0,1329.7 L3611.0,1328.4 L3612.0,1327.2 L3613.0,1326.0 L3614.0,1324.9 L3615.0,1323.7 L3616.0,1322.6 L3617.0,1321.5 L3618.0,1320.5 L3619.0,1319.5 L3620.0,1318.5 L3621.0,1317.6 L3622.0,1316.7 L3623.0,1315.9 L3624.0,1315.1 L3625.0,1314.4 L3626.0,1313.7 L3627.0,1313.1 L3628.0,1312.6 L3629.0,1312.1 L3630.0,1311.7 L3631.0,1311.3 L3632.0,1311.0 L3633.0,1310.8 L3634.0,1310.7 L3635.0,1310.6 L3636.0,1310.6 L3637.0,1310.7 L3638.0,1310.8 L3639.0,1311.0 L3640.0,1311.3 L3641.0,1311.6 L3642.0,1312.0 L3643.0,1312.5 L3644.0,1313.0 L3645.0,1313.6 L3646.0,1314.2 L3647.0,1314.9 L3648.0,1315.7 L3649.0,1316.5 L3650.0,1317.4 L3651.0,1318.3 L3652.0,1319.3 L3653.0,1320.3 L3654.0,1321.3 L3655.0,1322.4 L3656.0,1323.5 L3657.0,1324.6 L3658.0,1325.8 L3659.0,1327.0 L3660.0,1328.2 L3661.0,1329.4 L3662.0,1330.6 L3663.0,1331.9 L3664.0,1333.1 L3665.0,1334.4 L3666.0,1335.6 L3667.0,1336.8 L3668.0,1338.0 L3669.0,1339.2 L3670.0,1340.4 L3671.0,1341.6 L3672.0,1342.7 L3673.0,1343.8 L3674.0,1344.9 L3675.0,1345.9 L3676.0,1346.9 L3677.0,1347.8 L3678.0,1348.7 L3679.0,1349.6 L3680.0,1350.4 L3681.0,1351.1 L3682.0,1351.8 L3683.0,1352.4 L3684.0,1353.0 L3685.0,1353.5 L3686.0,1353.9 L3687.0,1354.3 L3688.0,1354.6 L3689.0,1354.9 L3690.0,1355.1 L3691.0,1355.2 L3692.0,1355.2 L3693.0,1355.2 L3694.0,1355.1 L3695.0,1354.9 L3696.0,1354.7 L3697.0,1354.4 L3698.0,1354.0 L3699.0,1353.6 L3700.0,1353.1 L3701.0,1352.5 L3702.0,1351.9 L3703.0,1351.2 L3704.0,1350.4 L3705.0,1349.7 L3706.0,1348.8 L3707.0,1347.9 L3708.0,1347.0 L3709.0,1346.0 L3710.0,1345.0 L3711.0,1343.9 L3712.0,1342.8 L3713.0,1341.7 L3714.0,1340.5 L3715.0,1339.4 L3716.0,1338.2 L3717.0,1336.9 L3718.0,1335.7 L3719.0,1334.5 L3720.0,1333.2 L3721.0,1332.0 L3722.0,1330.8 L3723.0,1329.5 L3724.0,1328.3 L3725.0,1327.1 L3726.0,1325.9 L3727.0,1324.7 L3728.0,1323.6 L3729.0,1322.5 L3730.0,1321.4 L3731.0,1320.4 L3732.0,1319.4 L3733.0,1318.4 L3734.0,1317.5 L3735.0,1316.6 L3736.0,1315.8 L3737.0,1315.0 L3738.0,1314.3 L3739.0,1313.6 L3740.0,1313.0 L3741.0,1312.5 L3742.0,1312.0 L3743.0,1311.6 L3744.0,1311.3 L3745.0,1311.0 L3746.0,1310.8 L3747.0,1310.7 L3748.0,1310.6 L3749.0,1310.6 L3750.0,1310.7 L3751.0,1310.8 L3752.0,1311.0 L3753.0,1311.3 L3754.0,1311.6 L3755.0,1312.0 L3756.0,1312.5 L3757.0,1313.0 L3758.0,1313.6 L3759.0,1314.3 L3760.0,1315.0 L3761.0,1315.8 L3762.0,1316.6 L3763.0,1317.5 L3764.0,1318.4 L3765.0,1319.4" stroke="#a9a9a9"/></g>
<g fill="none" stroke-width="10" clip-path="url(#cblue)"><path d="M2850.0,1311.4 L2851.0,1311.7 L2852.0,1312.1 L2853.0,1312.6 L2854.0,1313.2 L2855.0,1313.8 L2856.0,1314.4 L2857.0,1315.2 L2858.0,1315.9 L2859.0,1316.8 L2860.0,1317.7 L2861.0,1318.6 L2862.0,1319.6 L2863.0,1320.6 L2864.0,1321.6 L2865.0,1322.7 L2866.0,1323.8 L2867.0,1325.0 L2868.0,1326.2 L2869.0,1327.3 L2870.0,1328.6 L2871.0,1329.8 L2872.0,1331.0 L2873.0,1332.2 L2874.0,1333.5 L2875.0,1334.7 L2876.0,1336.0 L2877.0,1337.2 L2878.0,1338.4 L2879.0,1339.6 L2880.0,1340.8 L2881.0,1341.9 L2882.0,1343.0 L2883.0,1344.1 L2884.0,1345.2 L2885.0,1346.2 L2886.0,1347.2 L2887.0,1348.1 L2888.0,1349.0 L2889.0,1349.8 L2890.0,1350.6 L2891.0,1351.3 L2892.0,1352.0 L2893.0,1352.6 L2894.0,1353.2 L2895.0,1353.6 L2896.0,1354.1 L2897.0,1354.4 L2898.0,1354.7 L2899.0,1354.9 L2900.0,1355.1 L2901.0,1355.2 L2902.0,1355.2 L2903.0,1355.1 L2904.0,1355.0 L2905.0,1354.8 L2906.0,1354.6 L2907.0,1354.3 L2908.0,1353.9 L2909.0,1353.4 L2910.0,1352.9 L2911.0,1352.3 L2912.0,1351.7 L2913.0,1351.0 L2914.0,1350.2 L2915.0,1349.4 L2916.0,1348.5 L2917.0,1347.6 L2918.0,1346.7 L2919.0,1345.7 L2920.0,1344.7 L2921.0,1343.6 L2922.0,1342.5 L2923.0,1341.3 L2924.0,1340.2 L2925.0,1339.0 L2926.0,1337.8 L2927.0,1336.6 L2928.0,1335.3 L2929.0,1334.1 L2930.0,1332.9 L2931.0,1331.6 L2932.0,1330.4 L2933.0,1329.2 L2934.0,1327.9 L2935.0,1326.7 L2936.0,1325.6 L2937.0,1324.4 L2938.0,1323.3 L2939.0,1322.2 L2940.0,1321.1 L2941.0,1320.1 L2942.0,1319.1 L2943.0,1318.1 L2944.0,1317.2 L2945.0,1316.4 L2946.0,1315.5 L2947.0,1314.8 L2948.0,1314.1 L2949.0,1313.5 L2950.0,1312.9 L2951.0,1312.4 L2952.0,1311.9 L2953.0,1311.5 L2954.0,1311.2 L2955.0,1311.0 L2956.0,1310.8 L2957.0,1310.6 L2958.0,1310.6 L2959.0,1310.6 L2960.0,1310.7 L2961.0,1310.9 L2962.0,1311.1 L2963.0,1311.4 L2964.0,1311.8 L2965.0,1312.2 L2966.0,1312.7 L2967.0,1313.2 L2968.0,1313.8 L2969.0,1314.5 L2970.0,1315.2 L2971.0,1316.0 L2972.0,1316.9 L2973.0,1317.7 L2974.0,1318.7 L2975.0,1319.7 L2976.0,1320.7 L2977.0,1321.7 L2978.0,1322.8 L2979.0,1323.9 L2980.0,1325.1 L2981.0,1326.3 L2982.0,1327.5 L2983.0,1328.7 L2984.0,1329.9 L2985.0,1331.1 L2986.0,1332.4 L2987.0,1333.6 L2988.0,1334.9 L2989.0,1336.1 L2990.0,1337.3 L2991.0,1338.5 L2992.0,1339.7 L2993.0,1340.9 L2994.0,1342.0 L2995.0,1343.1 L2996.0,1344.2 L2997.0,1345.3 L2998.0,1346.3 L2999.0,1347.3 L3000.0,1348.2 L3001.0,1349.1 L3002.0,1349.9 L3003.0,1350.7 L3004.0,1351.4 L3005.0,1352.1 L3006.0,1352.7 L3007.0,1353.2 L3008.0,1353.7 L3009.0,1354.1 L3010.0,1354.5 L3011.0,1354.7 L3012.0,1355.0 L3013.0,1355.1 L3014.0,1355.2 L3015.0,1355.2 L3016.0,1355.1 L3017.0,1355.0 L3018.0,1354.8 L3019.0,1354.5 L3020.0,1354.2 L3021.0,1353.8 L3022.0,1353.4 L3023.0,1352.8 L3024.0,1352.2 L3025.0,1351.6 L3026.0,1350.9 L3027.0,1350.1 L3028.0,1349.3 L3029.0,1348.5 L3030.0,1347.5 L3031.0,1346.6 L3032.0,1345.6 L3033.0,1344.5 L3034.0,1343.5 L3035.0,1342.4 L3036.0,1341.2 L3037.0,1340.1 L3038.0,1338.9 L3039.0,1337.7 L3040.0,1336.5 L3041.0,1335.2 L3042.0,1334.0 L3043.0,1332.7 L3044.0,1331.5 L3045.0,1330.3 L3046.0,1329.0 L3047.0,1327.8 L3048.0,1326.6 L3049.0,1325.4 L3050.0,1324.3 L3051.0,1323.2 L3052.0,1322.1 L3053.0,1321.0 L3054.0,1320.0 L3055.0,1319.0 L3056.0,1318.0 L3057.0,1317.1 L3058.0,1316.3 L3059.0,1315.5 L3060.0,1314.7 L3061.0,1314.0 L3062.0,1313.4 L3063.0,1312.8 L3064.0,1312.3 L3065.0,1311.9 L3066.0,1311.5 L3067.0,1311.2 L3068.0,1310.9 L3069.0,1310.8 L3070.0,1310.6 L3071.0,1310.6 L3072.0,1310.6 L3073.0,1310.7 L3074.0,1310.9 L3075.0,1311.1 L3076.0,1311.4 L3077.0,1311.8 L3078.0,1312.2 L3079.0,1312.7 L3080.0,1313.3 L3081.0,1313.9 L3082.0,1314.6 L3083.0,1315.3 L3084.0,1316.1 L3085.0,1316.9 L3086.0,1317.8 L3087.0,1318.8 L3088.0,1319.8 L3089.0,1320.8 L3090.0,1321.8 L3091.0,1322.9 L3092.0,1324.1 L3093.0,1325.2 L3094.0,1326.4 L3095.0,1327.6 L3096.0,1328.8 L3097.0,1330.0 L3098.0,1331.3 L3099.0,1332.5 L3100.0,1333.7 L3101.0,1335.0 L3102.0,1336.2 L3103.0,1337.4 L3104.0,1338.6 L3105.0,1339.8 L3106.0,1341.0 L3107.0,1342.1 L3108.0,1343.3 L3109.0,1344.3 L3110.0,1345.4 L3111.0,1346.4 L3112.0,1347.4 L3113.0,1348.3 L3114.0,1349.2 L3115.0,1350.0 L3116.0,1350.7 L3117.0,1351.5 L3118.0,1352.1 L3119.0,1352.7 L3120.0,1353.3 L3121.0,1353.7 L3122.0,1354.1 L3123.0,1354.5 L3124.0,1354.8 L3125.0,1355.0 L3126.0,1355.1 L3127.0,1355.2 L3128.0,1355.2 L3129.0,1355.1 L3130.0,1355.0 L3131.0,1354.8 L3132.0,1354.5 L3133.0,1354.2 L3134.0,1353.8 L3135.0,1353.3 L3136.0,1352.8 L3137.0,1352.2 L3138.0,1351.5 L3139.0,1350.8 L3140.0,1350.1 L3141.0,1349.2 L3142.0,1348.4 L3143.0,1347.5 L3144.0,1346.5 L3145.0,1345.5 L3146.0,1344.4 L3147.0,1343.4 L3148.0,1342.3 L3149.0,1341.1 L3150.0,1339.9 L3151.0,1338.8 L3152.0,1337.6 L3153.0,1336.3 L3154.0,1335.1 L3155.0,1333.9 L3156.0,1332.6 L3157.0,1331.4 L3158.0,1330.1 L3159.0,1328.9 L3160.0,1327.7 L3161.0,1326.5 L3162.0,1325.3 L3163.0,1324.2 L3164.0,1323.0 L3165.0,1321.9 L3166.0,1320.9 L3167.0,1319.9 L3168.0,1318.9 L3169.0,1317.9 L3170.0,1317.0 L3171.0,1316.2 L3172.0,1315.4 L3173.0,1314.6 L3174.0,1314.0 L3175.0,1313.3 L3176.0,1312.8 L3177.0,1312.3 L3178.0,1311.8 L3179.0,1311.5 L3180.0,1311.2 L3181.0,1310.9 L3182.0,1310.7 L3183.0,1310.6 L3184.0,1310.6 L3185.0,1310.6 L3186.0,1310.7 L3187.0,1310.9 L3188.0,1311.2 L3189.0,1311.5 L3190.0,1311.8 L3191.0,1312.3 L3192.0,1312.8 L3193.0,1313.3 L3194.0,1314.0 L3195.0,1314.6 L3196.0,1315.4 L3197.0,1316.2 L3198.0,1317.0 L3199.0,1317.9 L3200.0,1318.9 L3201.0,1319.9 L3202.0,1320.9 L3203.0,1321.9 L3204.0,1323.0 L3205.0,1324.2 L3206.0,1325.3 L3207.0,1326.5 L3208.0,1327.7 L3209.0,1328.9 L3210.0,1330.1 L3211.0,1331.4 L3212.0,1332.6 L3213.0,1333.9 L3214.0,1335.1 L3215.0,1336.3 L3216.0,1337.6 L3217.0,1338.8 L3218.0,1339.9 L3219.0,1341.1 L3220.0,1342.3 L3221.0,1343.4 L3222.0,1344.4 L3223.0,1345.5 L3224.0,1346.5 L3225.0,1347.5 L3226.0,1348.4 L3227.0,1349.2 L3228.0,1350.1 L3229.0,1350.8 L3230.0,1351.5 L3231.0,1352.2 L3232.0,1352.8 L3233.0,1353.3 L3234.0,1353.8 L3235.0,1354.2 L3236.0,1354.5 L3237.0,1354.8 L3238.0,1355.0 L3239.0,1355.1 L3240.0,1355.2 L3241.0,1355.2 L3242.0,1355.1 L3243.0,1355.0 L3244.0,1354.8 L3245.0,1354.5 L3246.0,1354.1 L3247.0,1353.7 L3248.0,1353.3 L3249.0,1352.7 L3250.0,1352.1 L3251.0,1351.5 L3252.0,1350.7 L3253.0,1350.0 L3254.0,1349.2 L3255.0,1348.3 L3256.0,1347.4 L3257.0,1346.4 L3258.0,1345.4 L3259.0,1344.3 L3260.0,1343.3 L3261.0,1342.1 L3262.0,1341.0 L3263.0,1339.8 L3264.0,1338.6 L3265.0,1337.4 L3266.0,1336.2 L3267.0,1335.0 L3268.0,1333.7 L3269.0,1332.5 L3270.0,1331.3 L3271.0,1330.0 L3272.0,1328.8 L3273.0,1327.6 L3274.0,1326.4 L3275.0,1325.2 L3276.0,1324.1 L3277.0,1322.9 L3278.0,1321.8 L3279.0,1320.8 L3280.0,1319.8 L3281.0,1318.8 L3282.0,1317.8 L3283.0,1316.9 L3284.0,1316.1 L3285.0,1315.3 L3286.0,1314.6 L3287.0,1313.9 L3288.0,1313.3 L3289.0,1312.7 L3290.0,1312.2 L3291.0,1311.8 L3292.0,1311.4 L3293.0,1311.1 L3294.0,1310.9 L3295.0,1310.7 L3296.0,1310.6 L3297.0,1310.6 L3298.0,1310.6 L3299.0,1310.8 L3300.0,1310.9 L3301.0,1311.2 L3302.0,1311.5 L3303.0,1311.9 L3304.0,1312.3 L3305.0,1312.8 L3306.0,1313.4 L3307.0,1314.0 L3308.0,1314.7 L3309.0,1315.5 L3310.0,1316.3 L3311.0,1317.1 L3312.0,1318.0 L3313.0,1319.0 L3314.0,1320.0 L3315.0,1321.0 L3316.0,1322.1 L3317.0,1323.2 L3318.0,1324.3 L3319.0,1325.4 L3320.0,1326.6 L3321.0,1327.8 L3322.0,1329.0 L3323.0,1330.3 L3324.0,1331.5 L3325.0,1332.7 L3326.0,1334.0 L3327.0,1335.2 L3328.0,1336.5 L3329.0,1337.7 L3330.0,1338.9 L3331.0,1340.1 L3332.0,1341.2 L3333.0,1342.4 L3334.0,1343.5 L3335.0,1344.5 L3336.0,1345.6 L3337.0,1346.6 L3338.0,1347.5 L3339.0,1348.5 L3340.0,1349.3 L3341.0,1350.1 L3342.0,1350.9 L3343.0,1351.6 L3344.0,1352.2 L3345.0,1352.8 L3346.0,1353.4 L3347.0,1353.8 L3348.0,1354.2 L3349.0,1354.5 L3350.0,1354.8 L3351.0,1355.0 L3352.0,1355.1 L3353.0,1355.2 L3354.0,1355.2 L3355.0,1355.1 L3356.0,1355.0 L3357.0,1354.7 L3358.0,1354.5 L3359.0,1354.1 L3360.0,1353.7 L3361.0,1353.2 L3362.0,1352.7 L3363.0,1352.1 L3364.0,1351.4 L3365.0,1350.7 L3366.0,1349.9 L3367.0,1349.1 L3368.0,1348.2 L3369.0,1347.3 L3370.0,1346.3 L3371.0,1345.3 L3372.0,1344.2 L3373.0,1343.1 L3374.0,1342.0 L3375.0,1340.9 L3376.0,1339.7 L3377.0,1338.5 L3378.0,1337.3 L3379.0,1336.1 L3380.0,1334.9 L3381.0,1333.6 L3382.0,1332.4 L3383.0,1331.1 L3384.0,1329.9 L3385.0,1328.7 L3386.0,1327.5 L3387.0,1326.3 L3388.0,1325.1 L3389.0,1323.9 L3390.0,1322.8 L3391.0,1321.7 L3392.0,1320.7 L3393.0,1319.7 L3394.0,1318.7 L3395.0,1317.7 L3396.0,1316.9 L3397.0,1316.0 L3398.0,1315.2 L3399.0,1314.5 L3400.0,1313.8 L3401.0,1313.2 L3402.0,1312.7 L3403.0,1312.2 L3404.0,1311.8 L3405.0,1311.4 L3406.0,1311.1 L3407.0,1310.9 L3408.0,1310.7 L3409.0,1310.6 L3410.0,1310.6 L3411.0,1310.6 L3412.0,1310.8 L3413.0,1311.0 L3414.0,1311.2 L3415.0,1311.5 L3416.0,1311.9 L3417.0,1312.4 L3418.0,1312.9 L3419.0,1313.5 L3420.0,1314.1 L3421.0,1314.8 L3422.0,1315.5 L3423.0,1316.4 L3424.0,1317.2 L3425.0,1318.1 L3426.0,1319.1 L3427.0,1320.1 L3428.0,1321.1 L3429.0,1322.2 L3430.0,1323.3 L3431.0,1324.4 L3432.0,1325.6 L3433.0,1326.7 L3434.0,1327.9 L3435.0,1329.2 L3436.0,1330.4 L3437.0,1331.6 L3438.0,1332.9 L3439.0,1334.1 L3440.0,1335.3 L3441.0,1336.6 L3442.0,1337.8 L3443.0,1339.0 L3444.0,1340.2 L3445.0,1341.3 L3446.0,1342.5 L3447.0,1343.6 L3448.0,1344.7 L3449.0,1345.7 L3450.0,1346.7 L3451.0,1347.6 L3452.0,1348.5 L3453.0,1349.4 L3454.0,1350.2 L3455.0,1351.0 L3456.0,1351.7 L3457.0,1352.3 L3458.0,1352.9 L3459.0,1353.4 L3460.0,1353.9 L3461.0,1354.3 L3462.0,1354.6 L3463.0,1354.8 L3464.0,1355.0 L3465.0,1355.1 L3466.0,1355.2 L3467.0,1355.2 L3468.0,1355.1 L3469.0,1354.9 L3470.0,1354.7 L3471.0,1354.4 L3472.0,1354.1 L3473.0,1353.6 L3474.0,1353.2 L3475.0,1352.6 L3476.0,1352.0 L3477.0,1351.3 L3478.0,1350.6 L3479.0,1349.8 L3480.0,1349.0 L3481.0,1348.1 L3482.0,1347.2 L3483.0,1346.2 L3484.0,1345.2 L3485.0,1344.1 L3486.0,1343.0 L3487.0,1341.9 L3488.0,1340.8 L3489.0,1339.6 L3490.0,1338.4 L3491.0,1337.2 L3492.0,1336.0 L3493.0,1334.7 L3494.0,1333.5 L3495.0,1332.2 L3496.0,1331.0 L3497.0,1329.8 L3498.0,1328.6 L3499.0,1327.3 L3500.0,1326.2 L3501.0,1325.0 L3502.0,1323.8 L3503.0,1322.7 L3504.0,1321.6 L3505.0,1320.6 L3506.0,1319.6 L3507.0,1318.6 L3508.0,1317.7 L3509.0,1316.8 L3510.0,1315.9 L3511.0,1315.2 L3512.0,1314.4 L3513.0,1313.8 L3514.0,1313.2 L3515.0,1312.6 L3516.0,1312.1 L3517.0,1311.7 L3518.0,1311.4 L3519.0,1311.1 L3520.0,1310.9 L3521.0,1310.7 L3522.0,1310.6 L3523.0,1310.6 L3524.0,1310.7 L3525.0,1310.8 L3526.0,1311.0 L3527.0,1311.2 L3528.0,1311.6 L3529.0,1312.0 L3530.0,1312.4 L3531.0,1312.9 L3532.0,1313.5 L3533.0,1314.2 L3534.0,1314.9 L3535.0,1315.6 L3536.0,1316.4 L3537.0,1317.3 L3538.0,1318.2 L3539.0,1319.2 L3540.0,1320.2 L3541.0,1321.2 L3542.0,1322.3 L3543.0,1323.4 L3544.0,1324.5 L3545.0,1325.7 L3546.0,1326.9 L3547.0,1328.1 L3548.0,1329.3 L3549.0,1330.5 L3550.0,1331.8 L3551.0,1333.0 L3552.0,1334.2 L3553.0,1335.5 L3554.0,1336.7 L3555.0,1337.9 L3556.0,1339.1 L3557.0,1340.3 L3558.0,1341.5 L3559.0,1342.6 L3560.0,1343.7 L3561.0,1344.8 L3562.0,1345.8 L3563.0,1346.8 L3564.0,1347.7 L3565.0,1348.6 L3566.0,1349.5 L3567.0,1350.3 L3568.0,1351.0 L3569.0,1351.7 L3570.0,1352.4 L3571.0,1352.9 L3572.0,1353.5 L3573.0,1353.9 L3574.0,1354.3 L3575.0,1354.6 L3576.0,1354.9 L3577.0,1355.0 L3578.0,1355.2 L3579.0,1355.2 L3580.0,1355.2 L3581.0,1355.1 L3582.0,1354.9 L3583.0,1354.7 L3584.0,1354.4 L3585.0,1354.0 L3586.0,1353.6 L3587.0,1353.1 L3588.0,1352.5 L3589.0,1351.9 L3590.0,1351.3 L3591.0,1350.5 L3592.0,1349.7 L3593.0,1348.9 L3594.0,1348.0 L3595.0,1347.1 L3596.0,1346.1 L3597.0,1345.1 L3598.0,1344.0 L3599.0,1342.9 L3600.0,1341.8 L3601.0,1340.6 L3602.0,1339.5 L3603.0,1338.3 L3604.0,1337.1 L3605.0,1335.8 L3606.0,1334.6 L3607.0,1333.4 L3608.0,1332.1 L3609.0,1330.9 L3610.0,1329.7 L3611.0,1328.4 L3612.0,1327.2 L3613.0,1326.0 L3614.0,1324.9 L3615.0,1323.7 L3616.0,1322.6 L3617.0,1321.5 L3618.0,1320.5 L3619.0,1319.5 L3620.0,1318.5 L3621.0,1317.6 L3622.0,1316.7 L3623.0,1315.9 L3624.0,1315.1 L3625.0,1314.4 L3626.0,1313.7 L3627.0,1313.1 L3628.0,1312.6 L3629.0,1312.1 L3630.0,1311.7 L3631.0,1311.3 L3632.0,1311.0 L3633.0,1310.8 L3634.0,1310.7 L3635.0,1310.6 L3636.0,1310.6 L3637.0,1310.7 L3638.0,1310.8 L3639.0,1311.0 L3640.0,1311.3 L3641.0,1311.6 L3642.0,1312.0 L3643.0,1312.5 L3644.0,1313.0 L3645.0,1313.6 L3646.0,1314.2 L3647.0,1314.9 L3648.0,1315.7 L3649.0,1316.5 L3650.0,1317.4 L3651.0,1318.3 L3652.0,1319.3 L3653.0,1320.3 L3654.0,1321.3 L3655.0,1322.4 L3656.0,1323.5 L3657.0,1324.6 L3658.0,1325.8 L3659.0,1327.0 L3660.0,1328.2 L3661.0,1329.4 L3662.0,1330.6 L3663.0,1331.9 L3664.0,1333.1 L3665.0,1334.4 L3666.0,1335.6 L3667.0,1336.8 L3668.0,1338.0 L3669.0,1339.2 L3670.0,1340.4 L3671.0,1341.6 L3672.0,1342.7 L3673.0,1343.8 L3674.0,1344.9 L3675.0,1345.9 L3676.0,1346.9 L3677.0,1347.8 L3678.0,1348.7 L3679.0,1349.6 L3680.0,1350.4 L3681.0,1351.1 L3682.0,1351.8 L3683.0,1352.4 L3684.0,1353.0 L3685.0,1353.5 L3686.0,1353.9 L3687.0,1354.3 L3688.0,1354.6 L3689.0,1354.9 L3690.0,1355.1 L3691.0,1355.2 L3692.0,1355.2 L3693.0,1355.2 L3694.0,1355.1 L3695.0,1354.9 L3696.0,1354.7 L3697.0,1354.4 L3698.0,1354.0 L3699.0,1353.6 L3700.0,1353.1 L3701.0,1352.5 L3702.0,1351.9 L3703.0,1351.2 L3704.0,1350.4 L3705.0,1349.7 L3706.0,1348.8 L3707.0,1347.9 L3708.0,1347.0 L3709.0,1346.0 L3710.0,1345.0 L3711.0,1343.9 L3712.0,1342.8 L3713.0,1341.7 L3714.0,1340.5 L3715.0,1339.4 L3716.0,1338.2 L3717.0,1336.9 L3718.0,1335.7 L3719.0,1334.5 L3720.0,1333.2 L3721.0,1332.0 L3722.0,1330.8 L3723.0,1329.5 L3724.0,1328.3 L3725.0,1327.1 L3726.0,1325.9 L3727.0,1324.7 L3728.0,1323.6 L3729.0,1322.5 L3730.0,1321.4 L3731.0,1320.4 L3732.0,1319.4 L3733.0,1318.4 L3734.0,1317.5 L3735.0,1316.6 L3736.0,1315.8 L3737.0,1315.0 L3738.0,1314.3 L3739.0,1313.6 L3740.0,1313.0 L3741.0,1312.5 L3742.0,1312.0 L3743.0,1311.6 L3744.0,1311.3 L3745.0,1311.0 L3746.0,1310.8 L3747.0,1310.7 L3748.0,1310.6 L3749.0,1310.6 L3750.0,1310.7 L3751.0,1310.8 L3752.0,1311.0 L3753.0,1311.3 L3754.0,1311.6 L3755.0,1312.0 L3756.0,1312.5 L3757.0,1313.0 L3758.0,1313.6 L3759.0,1314.3 L3760.0,1315.0 L3761.0,1315.8 L3762.0,1316.6 L3763.0,1317.5 L3764.0,1318.4 L3765.0,1319.4" stroke="#0b1f7b"/><path d="M2850.0,1346.6 L2851.0,1347.5 L2852.0,1348.5 L2853.0,1349.3 L2854.0,1350.1 L2855.0,1350.9 L2856.0,1351.6 L2857.0,1352.2 L2858.0,1352.8 L2859.0,1353.4 L2860.0,1353.8 L2861.0,1354.2 L2862.0,1354.5 L2863.0,1354.8 L2864.0,1355.0 L2865.0,1355.1 L2866.0,1355.2 L2867.0,1355.2 L2868.0,1355.1 L2869.0,1355.0 L2870.0,1354.7 L2871.0,1354.5 L2872.0,1354.1 L2873.0,1353.7 L2874.0,1353.2 L2875.0,1352.7 L2876.0,1352.1 L2877.0,1351.4 L2878.0,1350.7 L2879.0,1349.9 L2880.0,1349.1 L2881.0,1348.2 L2882.0,1347.3 L2883.0,1346.3 L2884.0,1345.3 L2885.0,1344.2 L2886.0,1343.1 L2887.0,1342.0 L2888.0,1340.9 L2889.0,1339.7 L2890.0,1338.5 L2891.0,1337.3 L2892.0,1336.1 L2893.0,1334.9 L2894.0,1333.6 L2895.0,1332.4 L2896.0,1331.1 L2897.0,1329.9 L2898.0,1328.7 L2899.0,1327.5 L2900.0,1326.3 L2901.0,1325.1 L2902.0,1323.9 L2903.0,1322.8 L2904.0,1321.7 L2905.0,1320.7 L2906.0,1319.7 L2907.0,1318.7 L2908.0,1317.7 L2909.0,1316.9 L2910.0,1316.0 L2911.0,1315.2 L2912.0,1314.5 L2913.0,1313.8 L2914.0,1313.2 L2915.0,1312.7 L2916.0,1312.2 L2917.0,1311.8 L2918.0,1311.4 L2919.0,1311.1 L2920.0,1310.9 L2921.0,1310.7 L2922.0,1310.6 L2923.0,1310.6 L2924.0,1310.6 L2925.0,1310.8 L2926.0,1311.0 L2927.0,1311.2 L2928.0,1311.5 L2929.0,1311.9 L2930.0,1312.4 L2931.0,1312.9 L2932.0,1313.5 L2933.0,1314.1 L2934.0,1314.8 L2935.0,1315.5 L2936.0,1316.4 L2937.0,1317.2 L2938.0,1318.1 L2939.0,1319.1 L2940.0,1320.1 L2941.0,1321.1 L2942.0,1322.2 L2943.0,1323.3 L2944.0,1324.4 L2945.0,1325.6 L2946.0,1326.7 L2947.0,1327.9 L2948.0,1329.2 L2949.0,1330.4 L2950.0,1331.6 L2951.0,1332.9 L2952.0,1334.1 L2953.0,1335.3 L2954.0,1336.6 L2955.0,1337.8 L2956.0,1339.0 L2957.0,1340.2 L2958.0,1341.3 L2959.0,1342.5 L2960.0,1343.6 L2961.0,1344.7 L2962.0,1345.7 L2963.0,1346.7 L2964.0,1347.6 L2965.0,1348.5 L2966.0,1349.4 L2967.0,1350.2 L2968.0,1351.0 L2969.0,1351.7 L2970.0,1352.3 L2971.0,1352.9 L2972.0,1353.4 L2973.0,1353.9 L2974.0,1354.3 L2975.0,1354.6 L2976.0,1354.8 L2977.0,1355.0 L2978.0,1355.1 L2979.0,1355.2 L2980.0,1355.2 L2981.0,1355.1 L2982.0,1354.9 L2983.0,1354.7 L2984.0,1354.4 L2985.0,1354.1 L2986.0,1353.6 L2987.0,1353.2 L2988.0,1352.6 L2989.0,1352.0 L2990.0,1351.3 L2991.0,1350.6 L2992.0,1349.8 L2993.0,1349.0 L2994.0,1348.1 L2995.0,1347.2 L2996.0,1346.2 L2997.0,1345.2 L2998.0,1344.1 L2999.0,1343.0 L3000.0,1341.9 L3001.0,1340.8 L3002.0,1339.6 L3003.0,1338.4 L3004.0,1337.2 L3005.0,1336.0 L3006.0,1334.7 L3007.0,1333.5 L3008.0,1332.2 L3009.0,1331.0 L3010.0,1329.8 L3011.0,1328.6 L3012.0,1327.3 L3013.0,1326.2 L3014.0,1325.0 L3015.0,1323.8 L3016.0,1322.7 L3017.0,1321.6 L3018.0,1320.6 L3019.0,1319.6 L3020.0,1318.6 L3021.0,1317.7 L3022.0,1316.8 L3023.0,1315.9 L3024.0,1315.2 L3025.0,1314.4 L3026.0,1313.8 L3027.0,1313.2 L3028.0,1312.6 L3029.0,1312.1 L3030.0,1311.7 L3031.0,1311.4 L3032.0,1311.1 L3033.0,1310.9 L3034.0,1310.7 L3035.0,1310.6 L3036.0,1310.6 L3037.0,1310.7 L3038.0,1310.8 L3039.0,1311.0 L3040.0,1311.2 L3041.0,1311.6 L3042.0,1312.0 L3043.0,1312.4 L3044.0,1312.9 L3045.0,1313.5 L3046.0,1314.2 L3047.0,1314.9 L3048.0,1315.6 L3049.0,1316.4 L3050.0,1317.3 L3051.0,1318.2 L3052.0,1319.2 L3053.0,1320.2 L3054.0,1321.2 L3055.0,1322.3 L3056.0,1323.4 L3057.0,1324.5 L3058.0,1325.7 L3059.0,1326.9 L3060.0,1328.1 L3061.0,1329.3 L3062.0,1330.5 L3063.0,1331.8 L3064.0,1333.0 L3065.0,1334.2 L3066.0,1335.5 L3067.0,1336.7 L3068.0,1337.9 L3069.0,1339.1 L3070.0,1340.3 L3071.0,1341.5 L3072.0,1342.6 L3073.0,1343.7 L3074.0,1344.8 L3075.0,1345.8 L3076.0,1346.8 L3077.0,1347.7 L3078.0,1348.6 L3079.0,1349.5 L3080.0,1350.3 L3081.0,1351.0 L3082.0,1351.7 L3083.0,1352.4 L3084.0,1352.9 L3085.0,1353.5 L3086.0,1353.9 L3087.0,1354.3 L3088.0,1354.6 L3089.0,1354.9 L3090.0,1355.0 L3091.0,1355.2 L3092.0,1355.2 L3093.0,1355.2 L3094.0,1355.1 L3095.0,1354.9 L3096.0,1354.7 L3097.0,1354.4 L3098.0,1354.0 L3099.0,1353.6 L3100.0,1353.1 L3101.0,1352.5 L3102.0,1351.9 L3103.0,1351.3 L3104.0,1350.5 L3105.0,1349.7 L3106.0,1348.9 L3107.0,1348.0 L3108.0,1347.1 L3109.0,1346.1 L3110.0,1345.1 L3111.0,1344.0 L3112.0,1342.9 L3113.0,1341.8 L3114.0,1340.6 L3115.0,1339.5 L3116.0,1338.3 L3117.0,1337.1 L3118.0,1335.8 L3119.0,1334.6 L3120.0,1333.4 L3121.0,1332.1 L3122.0,1330.9 L3123.0,1329.7 L3124.0,1328.4 L3125.0,1327.2 L3126.0,1326.0 L3127.0,1324.9 L3128.0,1323.7 L3129.0,1322.6 L3130.0,1321.5 L3131.0,1320.5 L3132.0,1319.5 L3133.0,1318.5 L3134.0,1317.6 L3135.0,1316.7 L3136.0,1315.9 L3137.0,1315.1 L3138.0,1314.4 L3139.0,1313.7 L3140.0,1313.1 L3141.0,1312.6 L3142.0,1312.1 L3143.0,1311.7 L3144.0,1311.3 L3145.0,1311.0 L3146.0,1310.8 L3147.0,1310.7 L3148.0,1310.6 L3149.0,1310.6 L3150.0,1310.7 L3151.0,1310.8 L3152.0,1311.0 L3153.0,1311.3 L3154.0,1311.6 L3155.0,1312.0 L3156.0,1312.5 L3157.0,1313.0 L3158.0,1313.6 L3159.0,1314.2 L3160.0,1314.9 L3161.0,1315.7 L3162.0,1316.5 L3163.0,1317.4 L3164.0,1318.3 L3165.0,1319.3 L3166.0,1320.3 L3167.0,1321.3 L3168.0,1322.4 L3169.0,1323.5 L3170.0,1324.6 L3171.0,1325.8 L3172.0,1327.0 L3173.0,1328.2 L3174.0,1329.4 L3175.0,1330.6 L3176.0,1331.9 L3177.0,1333.1 L3178.0,1334.4 L3179.0,1335.6 L3180.0,1336.8 L3181.0,1338.0 L3182.0,1339.2 L3183.0,1340.4 L3184.0,1341.6 L3185.0,1342.7 L3186.0,1343.8 L3187.0,1344.9 L3188.0,1345.9 L3189.0,1346.9 L3190.0,1347.8 L3191.0,1348.7 L3192.0,1349.6 L3193.0,1350.4 L3194.0,1351.1 L3195.0,1351.8 L3196.0,1352.4 L3197.0,1353.0 L3198.0,1353.5 L3199.0,1353.9 L3200.0,1354.3 L3201.0,1354.6 L3202.0,1354.9 L3203.0,1355.1 L3204.0,1355.2 L3205.0,1355.2 L3206.0,1355.2 L3207.0,1355.1 L3208.0,1354.9 L3209.0,1354.7 L3210.0,1354.4 L3211.0,1354.0 L3212.0,1353.6 L3213.0,1353.1 L3214.0,1352.5 L3215.0,1351.9 L3216.0,1351.2 L3217.0,1350.4 L3218.0,1349.7 L3219.0,1348.8 L3220.0,1347.9 L3221.0,1347.0 L3222.0,1346.0 L3223.0,1345.0 L3224.0,1343.9 L3225.0,1342.8 L3226.0,1341.7 L3227.0,1340.5 L3228.0,1339.4 L3229.0,1338.2 L3230.0,1336.9 L3231.0,1335.7 L3232.0,1334.5 L3233.0,1333.2 L3234.0,1332.0 L3235.0,1330.8 L3236.0,1329.5 L3237.0,1328.3 L3238.0,1327.1 L3239.0,1325.9 L3240.0,1324.7 L3241.0,1323.6 L3242.0,1322.5 L3243.0,1321.4 L3244.0,1320.4 L3245.0,1319.4 L3246.0,1318.4 L3247.0,1317.5 L3248.0,1316.6 L3249.0,1315.8 L3250.0,1315.0 L3251.0,1314.3 L3252.0,1313.6 L3253.0,1313.0 L3254.0,1312.5 L3255.0,1312.0 L3256.0,1311.6 L3257.0,1311.3 L3258.0,1311.0 L3259.0,1310.8 L3260.0,1310.7 L3261.0,1310.6 L3262.0,1310.6 L3263.0,1310.7 L3264.0,1310.8 L3265.0,1311.0 L3266.0,1311.3 L3267.0,1311.6 L3268.0,1312.0 L3269.0,1312.5 L3270.0,1313.0 L3271.0,1313.6 L3272.0,1314.3 L3273.0,1315.0 L3274.0,1315.8 L3275.0,1316.6 L3276.0,1317.5 L3277.0,1318.4 L3278.0,1319.4 L3279.0,1320.4 L3280.0,1321.4 L3281.0,1322.5 L3282.0,1323.6 L3283.0,1324.7 L3284.0,1325.9 L3285.0,1327.1 L3286.0,1328.3 L3287.0,1329.5 L3288.0,1330.8 L3289.0,1332.0 L3290.0,1333.2 L3291.0,1334.5 L3292.0,1335.7 L3293.0,1336.9 L3294.0,1338.2 L3295.0,1339.4 L3296.0,1340.5 L3297.0,1341.7 L3298.0,1342.8 L3299.0,1343.9 L3300.0,1345.0 L3301.0,1346.0 L3302.0,1347.0 L3303.0,1347.9 L3304.0,1348.8 L3305.0,1349.7 L3306.0,1350.4 L3307.0,1351.2 L3308.0,1351.9 L3309.0,1352.5 L3310.0,1353.1 L3311.0,1353.6 L3312.0,1354.0 L3313.0,1354.4 L3314.0,1354.7 L3315.0,1354.9 L3316.0,1355.1 L3317.0,1355.2 L3318.0,1355.2 L3319.0,1355.2 L3320.0,1355.1 L3321.0,1354.9 L3322.0,1354.6 L3323.0,1354.3 L3324.0,1353.9 L3325.0,1353.5 L3326.0,1353.0 L3327.0,1352.4 L3328.0,1351.8 L3329.0,1351.1 L3330.0,1350.4 L3331.0,1349.6 L3332.0,1348.7 L3333.0,1347.8 L3334.0,1346.9 L3335.0,1345.9 L3336.0,1344.9 L3337.0,1343.8 L3338.0,1342.7 L3339.0,1341.6 L3340.0,1340.4 L3341.0,1339.2 L3342.0,1338.0 L3343.0,1336.8 L3344.0,1335.6 L3345.0,1334.4 L3346.0,1333.1 L3347.0,1331.9 L3348.0,1330.6 L3349.0,1329.4 L3350.0,1328.2 L3351.0,1327.0 L3352.0,1325.8 L3353.0,1324.6 L3354.0,1323.5 L3355.0,1322.4 L3356.0,1321.3 L3357.0,1320.3 L3358.0,1319.3 L3359.0,1318.3 L3360.0,1317.4 L3361.0,1316.5 L3362.0,1315.7 L3363.0,1314.9 L3364.0,1314.2 L3365.0,1313.6 L3366.0,1313.0 L3367.0,1312.5 L3368.0,1312.0 L3369.0,1311.6 L3370.0,1311.3 L3371.0,1311.0 L3372.0,1310.8 L3373.0,1310.7 L3374.0,1310.6 L3375.0,1310.6 L3376.0,1310.7 L3377.0,1310.8 L3378.0,1311.0 L3379.0,1311.3 L3380.0,1311.7 L3381.0,1312.1 L3382.0,1312.6 L3383.0,1313.1 L3384.0,1313.7 L3385.0,1314.4 L3386.0,1315.1 L3387.0,1315.9 L3388.0,1316.7 L3389.0,1317.6 L3390.0,1318.5 L3391.0,1319.5 L3392.0,1320.5 L3393.0,1321.5 L3394.0,1322.6 L3395.0,1323.7 L3396.0,1324.9 L3397.0,1326.0 L3398.0,1327.2 L3399.0,1328.4 L3400.0,1329.7 L3401.0,1330.9 L3402.0,1332.1 L3403.0,1333.4 L3404.0,1334.6 L3405.0,1335.8 L3406.0,1337.1 L3407.0,1338.3 L3408.0,1339.5 L3409.0,1340.6 L3410.0,1341.8 L3411.0,1342.9 L3412.0,1344.0 L3413.0,1345.1 L3414.0,1346.1 L3415.0,1347.1 L3416.0,1348.0 L3417.0,1348.9 L3418.0,1349.7 L3419.0,1350.5 L3420.0,1351.3 L3421.0,1351.9 L3422.0,1352.5 L3423.0,1353.1 L3424.0,1353.6 L3425.0,1354.0 L3426.0,1354.4 L3427.0,1354.7 L3428.0,1354.9 L3429.0,1355.1 L3430.0,1355.2 L3431.0,1355.2 L3432.0,1355.2 L3433.0,1355.0 L3434.0,1354.9 L3435.0,1354.6 L3436.0,1354.3 L3437.0,1353.9 L3438.0,1353.5 L3439.0,1352.9 L3440.0,1352.4 L3441.0,1351.7 L3442.0,1351.0 L3443.0,1350.3 L3444.0,1349.5 L3445.0,1348.6 L3446.0,1347.7 L3447.0,1346.8 L3448.0,1345.8 L3449.0,1344.8 L3450.0,1343.7 L3451.0,1342.6 L3452.0,1341.5 L3453.0,1340.3 L3454.0,1339.1 L3455.0,1337.9 L3456.0,1336.7 L3457.0,1335.5 L3458.0,1334.2 L3459.0,1333.0 L3460.0,1331.8 L3461.0,1330.5 L3462.0,1329.3 L3463.0,1328.1 L3464.0,1326.9 L3465.0,1325.7 L3466.0,1324.5 L3467.0,1323.4 L3468.0,1322.3 L3469.0,1321.2 L3470.0,1320.2 L3471.0,1319.2 L3472.0,1318.2 L3473.0,1317.3 L3474.0,1316.4 L3475.0,1315.6 L3476.0,1314.9 L3477.0,1314.2 L3478.0,1313.5 L3479.0,1312.9 L3480.0,1312.4 L3481.0,1312.0 L3482.0,1311.6 L3483.0,1311.2 L3484.0,1311.0 L3485.0,1310.8 L3486.0,1310.7 L3487.0,1310.6 L3488.0,1310.6 L3489.0,1310.7 L3490.0,1310.9 L3491.0,1311.1 L3492.0,1311.4 L3493.0,1311.7 L3494.0,1312.1 L3495.0,1312.6 L3496.0,1313.2 L3497.0,1313.8 L3498.0,1314.4 L3499.0,1315.2 L3500.0,1315.9 L3501.0,1316.8 L3502.0,1317.7 L3503.0,1318.6 L3504.0,1319.6 L3505.0,1320.6 L3506.0,1321.6 L3507.0,1322.7 L3508.0,1323.8 L3509.0,1325.0 L3510.0,1326.2 L3511.0,1327.3 L3512.0,1328.6 L3513.0,1329.8 L3514.0,1331.0 L3515.0,1332.2 L3516.0,1333.5 L3517.0,1334.7 L3518.0,1336.0 L3519.0,1337.2 L3520.0,1338.4 L3521.0,1339.6 L3522.0,1340.8 L3523.0,1341.9 L3524.0,1343.0 L3525.0,1344.1 L3526.0,1345.2 L3527.0,1346.2 L3528.0,1347.2 L3529.0,1348.1 L3530.0,1349.0 L3531.0,1349.8 L3532.0,1350.6 L3533.0,1351.3 L3534.0,1352.0 L3535.0,1352.6 L3536.0,1353.2 L3537.0,1353.6 L3538.0,1354.1 L3539.0,1354.4 L3540.0,1354.7 L3541.0,1354.9 L3542.0,1355.1 L3543.0,1355.2 L3544.0,1355.2 L3545.0,1355.1 L3546.0,1355.0 L3547.0,1354.8 L3548.0,1354.6 L3549.0,1354.3 L3550.0,1353.9 L3551.0,1353.4 L3552.0,1352.9 L3553.0,1352.3 L3554.0,1351.7 L3555.0,1351.0 L3556.0,1350.2 L3557.0,1349.4 L3558.0,1348.5 L3559.0,1347.6 L3560.0,1346.7 L3561.0,1345.7 L3562.0,1344.7 L3563.0,1343.6 L3564.0,1342.5 L3565.0,1341.3 L3566.0,1340.2 L3567.0,1339.0 L3568.0,1337.8 L3569.0,1336.6 L3570.0,1335.3 L3571.0,1334.1 L3572.0,1332.9 L3573.0,1331.6 L3574.0,1330.4 L3575.0,1329.2 L3576.0,1327.9 L3577.0,1326.7 L3578.0,1325.6 L3579.0,1324.4 L3580.0,1323.3 L3581.0,1322.2 L3582.0,1321.1 L3583.0,1320.1 L3584.0,1319.1 L3585.0,1318.1 L3586.0,1317.2 L3587.0,1316.4 L3588.0,1315.5 L3589.0,1314.8 L3590.0,1314.1 L3591.0,1313.5 L3592.0,1312.9 L3593.0,1312.4 L3594.0,1311.9 L3595.0,1311.5 L3596.0,1311.2 L3597.0,1311.0 L3598.0,1310.8 L3599.0,1310.6 L3600.0,1310.6 L3601.0,1310.6 L3602.0,1310.7 L3603.0,1310.9 L3604.0,1311.1 L3605.0,1311.4 L3606.0,1311.8 L3607.0,1312.2 L3608.0,1312.7 L3609.0,1313.2 L3610.0,1313.8 L3611.0,1314.5 L3612.0,1315.2 L3613.0,1316.0 L3614.0,1316.9 L3615.0,1317.7 L3616.0,1318.7 L3617.0,1319.7 L3618.0,1320.7 L3619.0,1321.7 L3620.0,1322.8 L3621.0,1323.9 L3622.0,1325.1 L3623.0,1326.3 L3624.0,1327.5 L3625.0,1328.7 L3626.0,1329.9 L3627.0,1331.1 L3628.0,1332.4 L3629.0,1333.6 L3630.0,1334.9 L3631.0,1336.1 L3632.0,1337.3 L3633.0,1338.5 L3634.0,1339.7 L3635.0,1340.9 L3636.0,1342.0 L3637.0,1343.1 L3638.0,1344.2 L3639.0,1345.3 L3640.0,1346.3 L3641.0,1347.3 L3642.0,1348.2 L3643.0,1349.1 L3644.0,1349.9 L3645.0,1350.7 L3646.0,1351.4 L3647.0,1352.1 L3648.0,1352.7 L3649.0,1353.2 L3650.0,1353.7 L3651.0,1354.1 L3652.0,1354.5 L3653.0,1354.7 L3654.0,1355.0 L3655.0,1355.1 L3656.0,1355.2 L3657.0,1355.2 L3658.0,1355.1 L3659.0,1355.0 L3660.0,1354.8 L3661.0,1354.5 L3662.0,1354.2 L3663.0,1353.8 L3664.0,1353.4 L3665.0,1352.8 L3666.0,1352.2 L3667.0,1351.6 L3668.0,1350.9 L3669.0,1350.1 L3670.0,1349.3 L3671.0,1348.5 L3672.0,1347.5 L3673.0,1346.6 L3674.0,1345.6 L3675.0,1344.5 L3676.0,1343.5 L3677.0,1342.4 L3678.0,1341.2 L3679.0,1340.1 L3680.0,1338.9 L3681.0,1337.7 L3682.0,1336.5 L3683.0,1335.2 L3684.0,1334.0 L3685.0,1332.7 L3686.0,1331.5 L3687.0,1330.3 L3688.0,1329.0 L3689.0,1327.8 L3690.0,1326.6 L3691.0,1325.4 L3692.0,1324.3 L3693.0,1323.2 L3694.0,1322.1 L3695.0,1321.0 L3696.0,1320.0 L3697.0,1319.0 L3698.0,1318.0 L3699.0,1317.1 L3700.0,1316.3 L3701.0,1315.5 L3702.0,1314.7 L3703.0,1314.0 L3704.0,1313.4 L3705.0,1312.8 L3706.0,1312.3 L3707.0,1311.9 L3708.0,1311.5 L3709.0,1311.2 L3710.0,1310.9 L3711.0,1310.8 L3712.0,1310.6 L3713.0,1310.6 L3714.0,1310.6 L3715.0,1310.7 L3716.0,1310.9 L3717.0,1311.1 L3718.0,1311.4 L3719.0,1311.8 L3720.0,1312.2 L3721.0,1312.7 L3722.0,1313.3 L3723.0,1313.9 L3724.0,1314.6 L3725.0,1315.3 L3726.0,1316.1 L3727.0,1316.9 L3728.0,1317.8 L3729.0,1318.8 L3730.0,1319.8 L3731.0,1320.8 L3732.0,1321.8 L3733.0,1322.9 L3734.0,1324.1 L3735.0,1325.2 L3736.0,1326.4 L3737.0,1327.6 L3738.0,1328.8 L3739.0,1330.0 L3740.0,1331.3 L3741.0,1332.5 L3742.0,1333.7 L3743.0,1335.0 L3744.0,1336.2 L3745.0,1337.4 L3746.0,1338.6 L3747.0,1339.8 L3748.0,1341.0 L3749.0,1342.1 L3750.0,1343.3 L3751.0,1344.3 L3752.0,1345.4 L3753.0,1346.4 L3754.0,1347.4 L3755.0,1348.3 L3756.0,1349.2 L3757.0,1350.0 L3758.0,1350.7 L3759.0,1351.5 L3760.0,1352.1 L3761.0,1352.7 L3762.0,1353.3 L3763.0,1353.7 L3764.0,1354.1 L3765.0,1354.5" stroke="#1f3f96"/></g>
<path d="M3088,1312 L3088,1215 L3265,1215" fill="none" stroke="#161616" stroke-width="11" stroke-linejoin="round"/>
<path d="M3261.6,1190.5 L3310,1215 L3261.6,1239 Z" fill="#161616"/>
<text id="t1" x="36.75" y="153.40" font-size="82.00" fill="#000" font-weight="normal" stroke="#000" stroke-width="0.50" textLength="560.87" lengthAdjust="spacingAndGlyphs">PRAME gene on</text>
<text id="t2" x="37.78" y="243.00" font-size="82.00" fill="#000" font-weight="normal" stroke="#000" stroke-width="0.50" textLength="465.64" lengthAdjust="spacingAndGlyphs">chromosome</text>
<text id="t3" x="38.77" y="332.00" font-size="82.00" fill="#000" font-weight="normal" stroke="#000" stroke-width="0.50" textLength="330.81" lengthAdjust="spacingAndGlyphs">22q11.22</text>
<text id="t4" x="785.25" y="153.40" font-size="82.00" fill="#000" font-weight="normal" stroke="#000" stroke-width="0.50" textLength="306.46" lengthAdjust="spacingAndGlyphs">PRAME+</text>
<text id="t5" x="787.80" y="243.00" font-size="82.00" fill="#000" font-weight="normal" stroke="#000" stroke-width="0.50" textLength="595.05" lengthAdjust="spacingAndGlyphs">spermatogonium</text>
<text id="t6" x="784.78" y="332.00" font-size="82.00" fill="#000" font-weight="normal" stroke="#000" stroke-width="0.50" textLength="526.73" lengthAdjust="spacingAndGlyphs">(testis antigen)</text>
<text id="t7" x="1867.30" y="153.20" font-size="82.00" fill="#000" font-weight="normal" stroke="#000" stroke-width="0.50" textLength="306.40" lengthAdjust="spacingAndGlyphs">PRAME -</text>
<text id="t8" x="1867.83" y="242.90" font-size="82.00" fill="#000" font-weight="normal" stroke="#000" stroke-width="0.50" textLength="407.07" lengthAdjust="spacingAndGlyphs">melanocyte</text>
<text id="t9" x="3104.45" y="153.20" font-size="82.00" fill="#000" font-weight="normal" stroke="#000" stroke-width="0.50" textLength="307.28" lengthAdjust="spacingAndGlyphs">PRAME+</text>
<text id="t10" x="3103.81" y="242.90" font-size="82.00" fill="#000" font-weight="normal" stroke="#000" stroke-width="0.50" textLength="513.13" lengthAdjust="spacingAndGlyphs">melanoma cell</text>
<text id="t11a" x="933.78" y="1071.20" font-size="82.00" fill="#000" font-weight="normal" stroke="#000" stroke-width="0.50" textLength="264.52" lengthAdjust="spacingAndGlyphs">PRAME</text>
<text id="t11b" x="1216.57" y="1071.20" font-size="82.00" fill="#59ad48" font-weight="normal" stroke="#59ad48" stroke-width="0.50" textLength="110.59" lengthAdjust="spacingAndGlyphs">ON</text>
<text id="t12a" x="1949.26" y="1100.20" font-size="82.00" fill="#000" font-weight="normal" stroke="#000" stroke-width="0.50" textLength="264.43" lengthAdjust="spacingAndGlyphs">PRAME</text>
<text id="t12b" x="2230.31" y="1100.20" font-size="82.00" fill="#c93b33" font-weight="normal" stroke="#c93b33" stroke-width="0.50" textLength="141.94" lengthAdjust="spacingAndGlyphs">OFF</text>
<text id="t13a" x="3126.03" y="1099.30" font-size="82.00" fill="#000" font-weight="normal" stroke="#000" stroke-width="0.50" textLength="264.74" lengthAdjust="spacingAndGlyphs">PRAME</text>
<text id="t13b" x="3408.39" y="1099.30" font-size="82.00" fill="#59ad48" font-weight="normal" stroke="#59ad48" stroke-width="0.50" textLength="110.92" lengthAdjust="spacingAndGlyphs">ON</text>
<text id="t14" x="1781.46" y="1177.60" font-size="55.00" fill="#6e302d" font-weight="normal" stroke="#6e302d" stroke-width="0.60" textLength="300.48" lengthAdjust="spacingAndGlyphs">Methyl group</text>
<text id="t15" x="2453.61" y="1120.60" font-size="54.50" fill="#141414" font-weight="normal" stroke="#141414" stroke-width="0.70" textLength="462.86" lengthAdjust="spacingAndGlyphs">hypo/de-methylation</text>
<text id="t16" x="1816.76" y="1434.60" font-size="51.70" fill="#1e1c64" font-weight="normal" stroke="#1e1c64" stroke-width="0.50" textLength="214.81" lengthAdjust="spacingAndGlyphs">Promoter</text>
<text id="t17" x="2111.61" y="1434.60" font-size="51.70" fill="#1e1c64" font-weight="normal" stroke="#1e1c64" stroke-width="0.50" textLength="269.77" lengthAdjust="spacingAndGlyphs">Target gene</text>
<text id="t18" x="367.00" y="1258.00" font-size="39.00" fill="#26235a" font-weight="bold" textLength="44.55" lengthAdjust="spacingAndGlyphs">TF</text>
<text id="t19" x="891.80" y="1255.50" font-size="39.00" fill="#26235a" font-weight="bold" textLength="45.72" lengthAdjust="spacingAndGlyphs">TF</text>
<text id="t20" x="305.12" y="1353.30" font-size="39.00" fill="#2f2e6b" font-weight="normal" textLength="160.71" lengthAdjust="spacingAndGlyphs">Enhancer</text>
<text id="t21" x="842.85" y="1353.20" font-size="39.00" fill="#2f2e6b" font-weight="normal" textLength="157.73" lengthAdjust="spacingAndGlyphs">Promoter</text>
<text id="t22" x="1130.59" y="1312.70" font-size="37.80" fill="#3d7cc9" font-weight="normal" textLength="200.46" lengthAdjust="spacingAndGlyphs">Target gene</text>
</svg>
</body></html>
